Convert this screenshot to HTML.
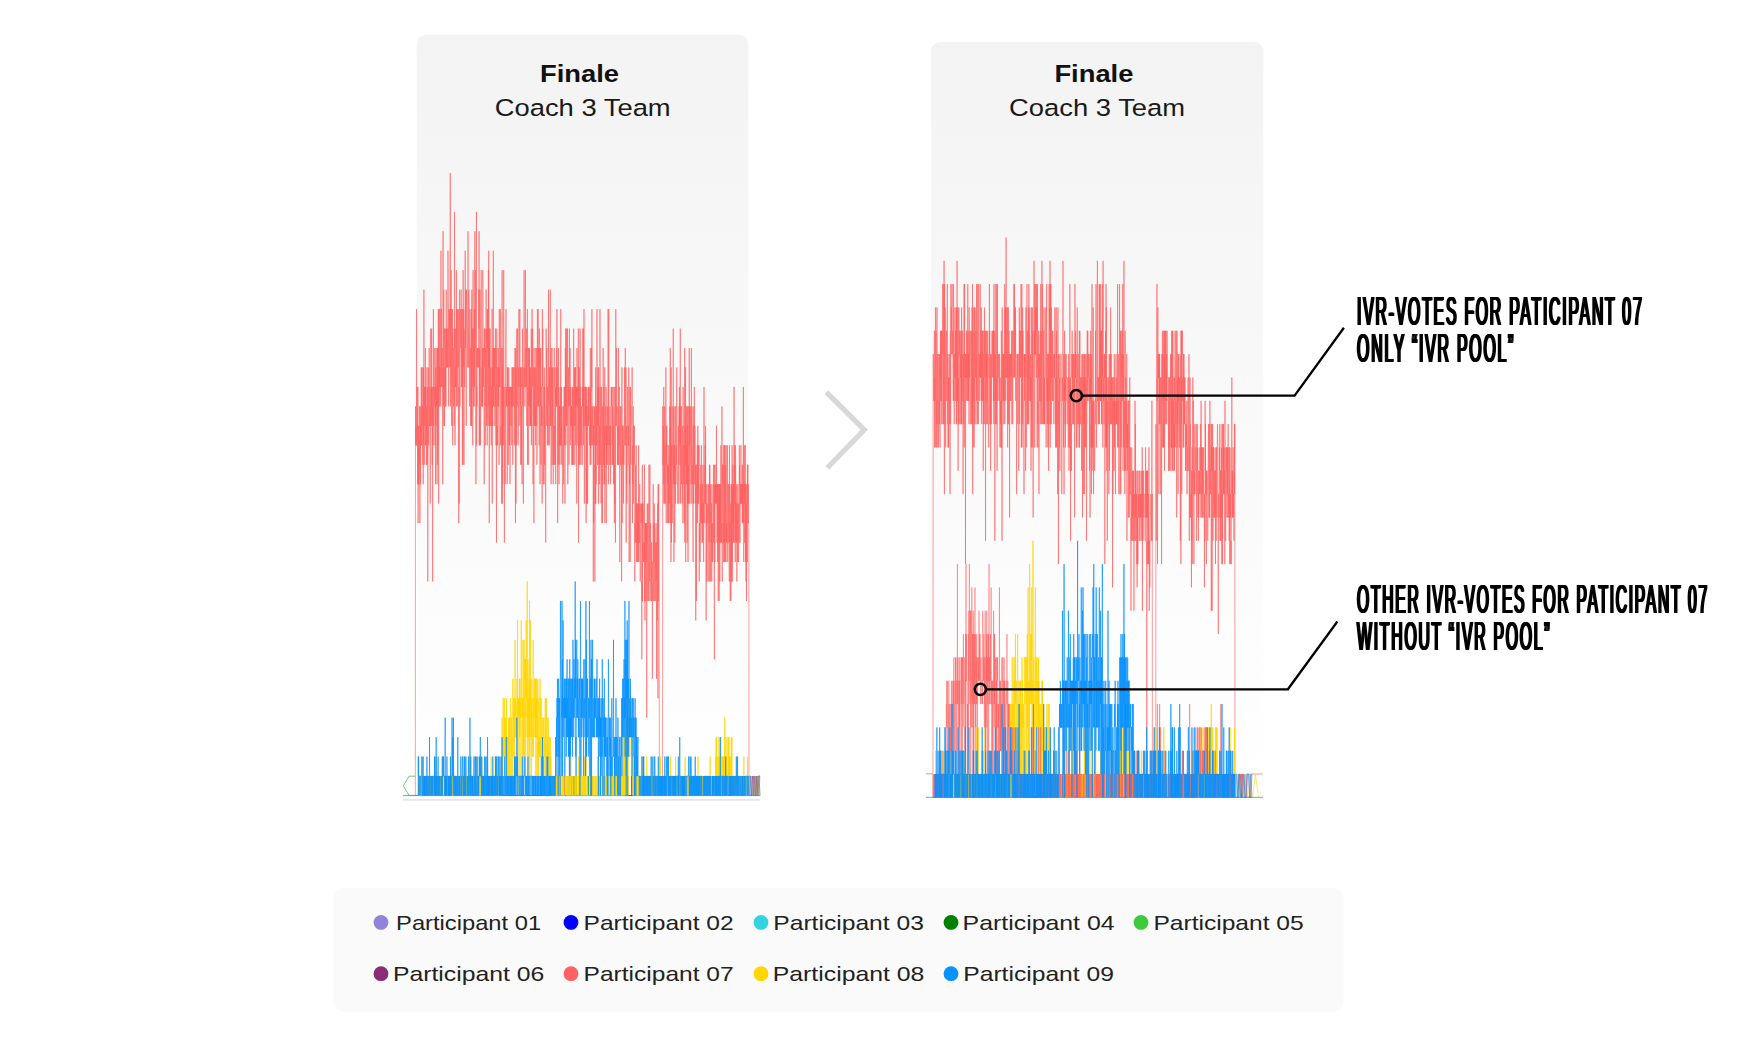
<!DOCTYPE html>
<html lang="en"><head><meta charset="utf-8"><title>Finale - Coach 3 Team</title>
<style>
html,body{margin:0;padding:0;background:#fff}
svg{display:block}
text{font-family:"Liberation Sans",Arial,sans-serif}
.t1{font-weight:700;font-size:23.7px;fill:#111}
.t2{font-size:23.7px;fill:#1a1a1a}
.leg text{font-size:21px;fill:#222}
.ann{font-weight:400;font-size:40px;fill:#000;letter-spacing:4.5px}
</style></head><body>
<svg width="1740" height="1037" viewBox="0 0 1740 1037">
<defs>
<linearGradient id="pg" x1="0" y1="0" x2="0" y2="1">
<stop offset="0" stop-color="#f3f3f3"/><stop offset="1" stop-color="#ffffff"/>
</linearGradient>
<filter id="fat" x="-2%" y="-10%" width="104%" height="120%">
<feOffset in="SourceGraphic" dx="-0.78" result="a"/><feOffset in="SourceGraphic" dx="0.78" result="b"/><feOffset in="SourceGraphic" dx="-0.38" result="c"/><feOffset in="SourceGraphic" dx="0.38" result="d"/>
<feMerge><feMergeNode in="a"/><feMergeNode in="c"/><feMergeNode in="SourceGraphic"/><feMergeNode in="d"/><feMergeNode in="b"/></feMerge>
</filter>
</defs>
<rect width="1740" height="1037" fill="#fff"/>
<rect x="416.8" y="34.8" width="331.5" height="766" rx="9" fill="url(#pg)"/>
<rect x="931" y="42" width="332.3" height="758" rx="9" fill="url(#pg)"/>
<text class="t1" x="540" y="81.9" textLength="79" lengthAdjust="spacingAndGlyphs">Finale</text>
<text class="t2" x="494.7" y="116" textLength="176" lengthAdjust="spacingAndGlyphs">Coach 3 Team</text>
<text class="t1" x="1054.4" y="81.9" textLength="79" lengthAdjust="spacingAndGlyphs">Finale</text>
<text class="t2" x="1009.1" y="116" textLength="176" lengthAdjust="spacingAndGlyphs">Coach 3 Team</text>
<!-- chart 1 -->
<path d="M415.3 776.2H409L403.3 785.8L409 795.3H415" fill="none" stroke="#4cc04c" stroke-width="0.8"/>
<path d="M403 795.6H760" stroke="#3aa0ff" stroke-width="0.9" fill="none"/>
<path d="M403 799.9H760" stroke="#e6e6ea" stroke-width="1.6" fill="none"/>
<g transform="translate(415.30,795.50) scale(0.17572,-19.4560)" fill="none" stroke-linejoin="round">
<path vector-effect="non-scaling-stroke" stroke="#9083d9" stroke-width="0.5" d="M0 0 87 0 88 1 89 0 97 0 98 1 99 0 144 0 145 1 146 0 386 0 387 1 388 0 460 0 461 1 462 0 887 0 888 1 889 0 891 0 892 1 893 0 1039 0 1040 1 1041 0 1046 0 1047 1 1048 0 1174 0 1175 1 1176 0 1509 0 1510 1 1511 0 1552 0 1553 1 1554 0 1708 0 1709 1 1710 0 1852 0 1853 1 1854 0 1899 0"/>
<path vector-effect="non-scaling-stroke" stroke="#0000ff" stroke-width="0.5" d="M0 0 1498 0 1499 1 1500 0 1583 0 1584 1 1585 0 1797 0 1798 1 1799 0 1899 0"/>
<path vector-effect="non-scaling-stroke" stroke="#33d3e0" stroke-width="0.5" d="M0 0 59 0 60 1 61 0 118 0 119 1 120 0 184 0 185 1 186 0 323 0 324 1 325 0 343 0 344 1 345 0 875 0 876 1 877 0 917 0 918 1 919 1 920 0 1136 0 1137 1 1138 0 1296 0 1297 1 1298 0 1623 0 1624 1 1625 0 1885 0 1886 1 1887 0 1888 1 1889 0 1899 0"/>
<path vector-effect="non-scaling-stroke" stroke="#008000" stroke-width="0.5" d="M0 0 21 0 22 1 23 0 149 0 150 1 151 0 199 0 200 1 201 0 480 0 481 1 482 0 715 0 716 1 717 0 901 0 902 1 903 0 907 0 908 1 909 0 916 0 917 1 918 0 959 0 960 1 961 0 980 0 981 1 982 0 985 0 986 1 987 0 1110 0 1111 1 1112 0 1197 0 1198 1 1199 0 1201 0 1202 1 1203 0 1230 0 1231 1 1232 0 1299 0 1300 1 1301 0 1331 0 1332 1 1333 0 1453 0 1454 1 1455 0 1574 0 1575 1 1576 0 1604 0 1605 1 1606 0 1681 0 1682 1 1683 0 1706 0 1707 1 1708 0 1733 0 1734 1 1735 0 1756 0 1757 1 1758 0 1774 0 1775 1 1776 0 1813 0 1814 1 1815 0 1875 0 1876 1 1877 0 1899 0"/>
<path vector-effect="non-scaling-stroke" stroke="#3ccb3c" stroke-width="0.5" d="M0 0 210 0 211 1 212 0 380 0 381 1 382 0 404 0 405 1 406 0 639 0 640 1 641 0 722 0 723 1 724 0 794 0 795 1 796 0 868 0 869 1 870 0 878 0 879 1 880 0 1084 0 1085 1 1086 0 1122 0 1123 1 1124 0 1125 0 1126 1 1127 0 1186 0 1187 1 1188 0 1333 0 1334 1 1335 0 1354 0 1355 1 1356 0 1406 0 1407 1 1408 1 1409 0 1477 0 1478 1 1479 0 1493 0 1494 1 1495 0 1536 0 1537 1 1538 0 1579 0 1580 1 1581 0 1799 0 1800 1 1801 0 1899 0"/>
<path vector-effect="non-scaling-stroke" stroke="#8a2d74" stroke-width="0.5" d="M0 0 67 0 68 1 69 0 325 0 326 1 327 0 351 0 352 1 353 0 416 0 417 1 418 0 425 0 426 1 427 0 591 0 592 1 593 0 805 0 806 1 807 0 810 0 811 1 812 0 849 0 850 1 851 0 911 0 912 1 913 0 1009 0 1010 1 1011 0 1046 0 1047 1 1048 0 1171 0 1172 1 1173 0 1209 0 1210 1 1211 0 1233 0 1234 1 1235 0 1304 0 1305 1 1306 0 1365 0 1366 1 1367 0 1509 0 1510 1 1511 0 1630 0 1631 1 1632 0 1652 0 1653 1 1654 0 1791 0 1792 1 1793 0 1893 0 1894 1 1895 0 1899 0"/>
<path vector-effect="non-scaling-stroke" stroke="#ff5f5f" stroke-width="0.62" d="M0 0 1 20 2 19 3 18 4 19 5 18 6 20 7 25 8 18 9 18 10 21 11 20 12 20 13 16 14 20 15 21 16 14 17 19 18 16 19 17 20 16 21 19 22 17 23 20 24 20 25 19 26 14 27 17 28 20 29 20 30 16 31 19 32 18 33 18 34 22 35 18 36 20 37 22 38 19 39 20 41 20 42 17 43 20 44 22 45 16 46 22 47 20 48 18 49 26 50 21 51 17 52 20 53 21 54 19 55 21 56 20 57 21 58 23 59 18 60 21 61 18 62 20 63 17 64 19 65 19 66 22 67 22 68 17 69 18 70 21 71 11 72 18 73 20 74 22 75 21 76 18 77 19 78 19 79 23 80 19 81 19 82 21 83 20 84 20 85 15 86 20 87 19 88 24 89 22 90 20 91 21 92 19 93 24 94 20 95 21 96 17 97 21 98 13 99 11 100 20 101 18 102 21 103 25 104 19 105 19 106 21 107 21 108 20 109 20 110 22 111 23 112 18 113 21 114 21 115 16 116 22 117 19 118 23 119 22 120 22 121 20 122 21 123 17 124 16 125 23 126 17 127 23 128 18 129 23 130 20 131 25 132 22 133 15 134 25 135 25 136 22 137 21 138 22 139 20 140 25 141 21 142 22 143 21 144 21 145 20 146 28 147 22 148 25 149 23 150 21 151 22 152 21 153 23 154 22 155 22 156 16 157 21 158 29 159 21 160 20 161 24 162 26 163 19 164 22 165 21 166 19 167 24 168 23 169 23 170 21 171 24 172 20 173 22 174 20 175 20 176 26 177 22 178 24 179 23 180 22 181 22 182 24 183 22 184 23 185 23 186 28 187 26 188 25 189 22 190 20 191 25 192 25 193 22 194 24 195 25 197 25 198 22 199 32 200 20 201 25 202 24 203 25 204 27 205 26 206 20 207 19 208 25 209 21 210 23 211 25 212 19 213 18 214 24 215 23 217 23 218 21 219 20 220 23 221 21 222 19 223 30 224 23 225 24 226 18 227 22 228 21 229 21 230 24 231 21 232 24 233 24 234 27 235 20 236 25 237 23 238 23 239 20 240 22 241 25 242 23 243 23 244 22 245 25 246 23 247 14 248 21 249 18 250 15 251 22 252 26 253 23 254 20 255 21 256 25 257 24 258 23 260 23 261 26 262 24 263 24 264 21 265 25 266 21 267 25 268 17 269 23 270 23 271 17 272 27 273 26 274 22 275 25 276 25 277 17 278 24 279 23 280 23 281 21 282 22 283 23 284 28 285 24 286 23 287 26 288 22 289 22 290 19 291 26 292 25 293 25 294 24 296 24 297 22 298 22 299 23 300 29 301 24 302 23 303 22 304 22 305 26 306 24 307 23 308 22 309 20 310 23 311 25 312 22 314 22 315 23 316 19 317 22 318 19 319 25 320 19 321 25 322 26 323 21 324 21 325 24 326 23 327 18 328 24 329 27 330 22 331 22 332 20 333 24 334 20 335 20 336 25 337 21 338 27 339 29 340 23 341 24 342 27 343 22 344 21 345 16 346 23 347 26 348 30 349 18 350 21 351 20 352 23 353 22 354 23 355 23 356 22 357 22 358 23 359 22 360 23 361 26 362 24 363 29 364 18 365 23 366 18 367 19 368 26 369 24 370 22 371 18 372 21 373 21 374 24 375 27 376 23 377 20 378 20 379 22 380 22 381 20 382 23 383 20 384 27 385 26 386 24 387 21 388 23 389 22 390 21 391 21 392 16 393 19 394 24 395 22 396 23 397 24 398 18 399 20 400 23 401 23 402 20 403 26 404 22 405 19 406 20 407 24 408 23 409 18 410 25 411 23 412 25 413 21 414 21 415 19 416 27 417 22 418 28 419 20 420 23 421 14 422 21 423 24 424 19 425 24 426 23 427 19 428 20 429 21 430 22 431 21 432 18 433 21 434 19 435 19 436 22 437 25 438 15 439 22 440 20 441 19 442 23 443 21 444 28 445 20 446 23 447 21 448 20 449 23 450 21 451 23 452 22 453 19 454 21 455 22 456 24 457 20 458 21 459 18 460 23 461 19 462 13 463 22 464 24 465 18 466 19 467 18 468 19 469 22 470 20 471 20 472 23 473 20 474 22 475 19 476 19 477 17 478 25 479 21 480 22 481 21 482 22 483 22 484 25 485 19 486 18 487 19 488 18 489 23 490 23 491 19 492 15 493 21 494 27 495 15 496 22 497 16 498 23 499 19 500 21 501 18 502 19 503 27 504 23 505 20 506 19 507 13 508 20 509 21 511 21 512 16 513 21 514 21 515 24 516 25 517 21 518 20 519 21 520 20 521 20 522 21 523 16 524 22 525 21 526 22 527 21 528 20 529 17 530 21 531 20 532 22 533 21 534 18 535 21 536 18 537 18 538 21 539 16 540 21 542 21 543 20 544 19 545 19 546 21 547 20 548 21 549 18 550 22 551 21 552 21 553 20 554 22 555 17 556 22 559 22 560 20 561 21 562 22 564 22 565 18 566 22 567 23 568 23 569 22 570 14 571 23 572 21 573 15 574 22 575 18 576 18 577 20 578 24 579 20 580 22 581 24 582 24 583 21 584 20 585 18 586 19 587 22 588 22 589 21 590 25 591 19 592 21 593 22 594 22 595 25 596 22 597 20 598 22 599 19 600 17 601 22 602 21 603 22 604 17 605 20 606 18 607 17 608 16 609 19 610 24 611 22 612 20 613 21 614 22 615 15 616 21 617 22 618 22 619 27 620 23 621 22 622 21 623 22 624 20 625 21 626 23 627 27 628 21 630 21 631 23 632 21 633 24 634 19 635 20 636 20 637 22 638 25 639 17 640 19 641 21 642 19 643 17 644 23 645 22 646 22 647 20 648 23 649 20 650 23 651 19 652 19 653 22 654 19 655 22 656 21 657 19 658 21 659 19 660 24 661 18 662 20 663 23 664 25 665 25 666 21 667 21 668 24 669 20 670 16 671 21 672 22 673 19 674 17 675 14 676 23 677 19 678 20 679 21 680 22 681 19 682 22 683 19 684 20 685 18 686 23 687 21 688 19 689 19 690 20 691 23 692 17 693 18 694 20 695 25 696 22 697 20 698 22 699 25 700 20 701 20 702 23 703 22 704 23 705 18 706 24 707 24 708 22 709 22 710 16 711 23 712 20 713 21 714 23 715 20 716 17 717 21 718 19 719 20 720 19 721 20 722 15 723 25 724 21 725 23 726 24 727 21 728 16 729 18 731 18 732 21 733 16 734 22 735 17 736 21 737 20 739 20 740 19 741 19 742 13 743 20 744 24 745 24 746 23 747 22 748 19 749 23 750 20 751 20 752 19 753 21 754 18 755 20 756 18 757 20 758 26 759 20 760 20 761 21 762 22 763 18 764 20 765 22 766 21 767 21 768 26 769 19 770 21 771 19 772 23 773 16 774 19 775 19 776 22 777 21 778 23 779 17 780 22 781 20 782 19 783 21 784 18 785 16 786 19 787 17 788 19 789 22 790 21 791 23 792 19 793 17 794 19 795 18 796 17 797 21 798 19 799 16 800 22 801 20 802 21 803 20 804 23 805 20 806 25 807 21 808 21 809 22 810 14 811 19 812 20 813 21 814 17 815 23 816 21 817 17 818 16 819 19 820 20 821 18 822 20 823 17 824 21 825 18 826 20 827 22 828 25 829 18 830 19 831 18 832 21 833 17 834 19 835 20 836 18 838 18 839 15 840 17 841 19 842 20 843 20 844 16 845 18 846 21 847 21 848 20 849 18 850 21 851 17 852 15 853 18 854 23 855 20 856 24 857 18 858 22 859 19 860 19 861 24 862 21 863 19 864 20 865 21 866 24 867 19 868 16 869 19 870 20 871 20 872 22 873 20 874 21 875 17 876 23 877 24 878 21 879 20 880 20 881 23 882 18 883 19 884 21 885 21 886 19 887 20 888 19 889 20 890 19 891 17 892 20 893 21 894 17 895 19 896 21 897 17 898 20 899 17 900 22 901 24 902 23 903 19 904 21 905 20 906 20 907 22 908 17 909 22 910 19 911 22 912 20 913 18 914 20 915 21 916 20 917 21 918 17 919 15 920 23 921 21 922 20 923 20 924 21 925 18 926 18 927 19 928 24 929 13 930 22 931 17 932 17 933 22 934 19 935 17 936 19 937 21 938 24 939 18 940 20 941 21 942 17 943 20 944 19 945 18 946 18 947 20 948 19 949 18 950 17 951 21 952 20 953 21 954 24 955 20 956 24 957 18 958 21 959 19 960 25 961 22 962 15 963 17 964 21 966 21 967 19 968 21 969 21 970 19 971 21 972 14 973 20 974 15 975 21 976 18 977 15 978 20 979 17 980 15 981 16 982 19 983 20 984 21 985 19 986 21 987 19 988 19 989 20 990 21 991 19 992 18 993 19 994 19 995 17 996 23 997 18 998 21 999 17 1000 20 1001 20 1002 18 1003 23 1004 21 1005 25 1006 21 1007 18 1008 18 1009 20 1010 19 1012 19 1013 11 1014 19 1015 14 1016 20 1017 18 1019 18 1020 20 1021 16 1022 11 1023 17 1024 15 1025 17 1026 22 1027 15 1028 20 1029 16 1030 20 1031 18 1032 19 1033 20 1034 25 1035 20 1036 20 1037 17 1038 21 1039 19 1040 22 1041 19 1042 22 1043 15 1044 18 1045 21 1046 18 1047 17 1048 19 1049 16 1050 19 1051 25 1052 21 1053 17 1054 17 1055 18 1056 21 1057 15 1058 18 1059 21 1060 21 1061 18 1062 14 1063 16 1064 18 1065 14 1066 20 1067 18 1068 20 1069 23 1070 21 1071 17 1072 21 1073 21 1074 16 1075 17 1076 19 1077 16 1078 22 1079 14 1080 17 1081 18 1082 18 1083 19 1084 20 1085 18 1086 21 1087 14 1088 19 1089 17 1090 19 1091 19 1092 17 1093 18 1094 20 1095 20 1096 18 1097 25 1098 23 1099 16 1100 20 1101 25 1102 20 1103 19 1104 19 1105 18 1106 19 1107 17 1108 20 1109 18 1110 18 1111 16 1112 19 1113 17 1114 19 1115 21 1116 20 1117 21 1118 20 1119 19 1120 19 1121 18 1122 20 1123 17 1124 21 1125 19 1126 17 1127 18 1128 16 1129 19 1130 17 1131 21 1132 16 1133 14 1134 17 1135 15 1136 19 1137 21 1138 20 1139 13 1140 17 1141 25 1142 19 1143 19 1144 21 1145 23 1146 21 1147 19 1148 20 1149 20 1150 18 1151 17 1152 19 1153 17 1154 19 1155 19 1156 23 1157 17 1158 19 1159 18 1160 20 1161 21 1162 17 1163 15 1164 12 1165 17 1166 20 1167 19 1168 17 1169 18 1170 19 1171 20 1172 18 1173 18 1174 11 1175 16 1176 22 1177 14 1178 18 1179 19 1180 17 1181 17 1182 19 1184 19 1185 15 1186 18 1187 17 1188 18 1189 19 1190 20 1191 22 1192 18 1193 20 1194 21 1195 23 1196 21 1197 18 1198 18 1199 22 1200 13 1201 19 1202 16 1203 17 1204 15 1205 17 1206 19 1207 20 1208 21 1209 19 1210 18 1211 17 1212 19 1213 18 1214 20 1215 22 1216 19 1217 12 1218 17 1219 16 1220 16 1221 21 1222 19 1223 12 1224 20 1225 21 1226 18 1227 17 1228 18 1229 19 1230 19 1231 20 1233 20 1234 22 1235 19 1236 14 1237 17 1238 18 1239 16 1240 20 1241 16 1242 15 1243 19 1244 18 1245 17 1246 19 1247 18 1248 17 1249 11 1250 14 1251 13 1252 13 1253 15 1254 17 1255 14 1256 13 1257 18 1258 14 1259 12 1260 15 1261 15 1262 13 1263 15 1264 13 1265 12 1266 14 1267 15 1268 12 1269 14 1270 13 1271 18 1272 12 1273 15 1274 13 1275 13 1276 14 1277 16 1278 15 1279 14 1280 11 1281 12 1282 14 1283 15 1284 15 1285 14 1286 14 1287 15 1288 13 1289 7 1290 11 1291 10 1292 17 1293 10 1294 15 1295 14 1296 15 1297 14 1298 12 1299 12 1300 13 1301 13 1302 12 1303 13 1304 17 1305 10 1306 13 1307 9 1308 13 1309 14 1310 13 1311 14 1312 10 1313 14 1314 12 1315 14 1316 13 1317 4 1318 11 1319 13 1320 15 1321 13 1322 13 1323 10 1324 15 1325 15 1326 13 1327 12 1328 10 1329 14 1330 17 1331 14 1332 14 1333 13 1334 11 1335 17 1336 10 1337 12 1338 13 1339 14 1340 13 1341 13 1342 11 1343 10 1344 13 1345 11 1346 10 1347 10 1348 12 1349 6 1350 10 1351 10 1352 13 1353 13 1354 16 1355 10 1356 11 1357 14 1358 12 1359 12 1360 15 1361 12 1362 10 1363 10 1364 14 1365 13 1366 10 1367 11 1368 13 1369 13 1370 11 1371 13 1372 13 1373 6 1374 12 1375 14 1376 11 1377 9 1378 11 1379 15 1380 15 1381 5 1382 16 1383 10 1384 14 1385 16 1386 14 1387 13 1388 11 1389 0 1407 0 1408 20 1409 19 1410 17 1411 19 1412 16 1413 17 1414 21 1415 15 1416 16 1417 15 1418 18 1419 20 1420 16 1421 18 1422 16 1423 15 1424 15 1425 20 1426 22 1427 19 1428 14 1429 19 1430 17 1431 19 1432 18 1434 18 1435 16 1436 17 1437 14 1438 17 1439 14 1440 17 1441 15 1442 18 1443 18 1444 14 1445 16 1446 15 1447 19 1448 20 1449 19 1450 16 1451 23 1452 14 1453 20 1454 16 1455 12 1456 22 1457 20 1458 13 1459 18 1460 17 1461 18 1462 14 1463 15 1464 18 1465 18 1466 20 1467 18 1468 24 1469 16 1470 18 1471 13 1472 12 1473 20 1474 16 1475 18 1476 17 1477 13 1478 17 1479 16 1480 15 1481 20 1482 19 1483 16 1484 16 1485 18 1486 17 1487 19 1488 22 1489 19 1490 17 1491 17 1492 16 1493 16 1494 15 1495 17 1496 17 1497 19 1498 17 1499 17 1500 15 1501 20 1502 18 1503 21 1504 19 1505 20 1506 17 1507 20 1508 24 1509 15 1510 20 1511 20 1512 18 1513 20 1514 20 1515 16 1516 18 1517 16 1518 16 1519 15 1520 17 1521 18 1522 19 1523 14 1524 21 1525 19 1526 19 1527 16 1528 17 1529 18 1530 18 1531 14 1532 19 1533 23 1534 13 1535 19 1536 18 1537 17 1538 22 1539 12 1540 18 1541 20 1542 17 1543 16 1544 18 1545 16 1546 20 1547 13 1548 19 1549 15 1550 20 1551 17 1552 12 1553 17 1554 15 1555 15 1556 20 1557 15 1558 15 1559 23 1560 18 1561 20 1562 18 1563 15 1564 17 1565 20 1566 19 1567 17 1569 17 1570 16 1571 23 1572 17 1573 15 1574 15 1575 20 1576 18 1577 17 1578 16 1579 17 1580 14 1581 12 1582 19 1583 15 1584 18 1585 20 1586 18 1587 17 1588 21 1589 19 1590 16 1591 19 1592 19 1593 15 1594 17 1595 17 1596 9 1597 17 1598 16 1599 16 1600 10 1601 17 1603 17 1604 15 1605 18 1606 14 1607 16 1608 19 1609 15 1610 16 1611 18 1612 15 1613 16 1614 17 1615 18 1616 11 1617 14 1618 14 1619 13 1620 14 1621 12 1622 16 1623 14 1624 16 1625 17 1626 14 1627 15 1628 18 1629 16 1630 14 1631 15 1632 13 1633 15 1634 16 1635 13 1636 14 1637 17 1638 14 1639 15 1640 13 1641 12 1642 14 1643 21 1644 14 1647 14 1648 17 1649 15 1650 18 1651 15 1652 19 1653 15 1654 16 1655 9 1656 15 1657 15 1658 14 1659 11 1660 16 1661 14 1664 14 1665 15 1666 12 1667 11 1668 16 1669 15 1670 14 1671 14 1672 13 1673 15 1674 17 1675 11 1676 17 1677 16 1678 14 1679 16 1680 12 1681 11 1682 12 1683 14 1684 14 1685 13 1686 15 1687 11 1688 16 1689 12 1690 13 1691 14 1692 13 1693 12 1694 13 1695 15 1696 16 1697 17 1698 13 1700 13 1701 16 1702 7 1703 17 1704 14 1705 12 1706 15 1707 16 1708 15 1709 16 1710 15 1711 17 1712 17 1713 15 1714 19 1715 15 1716 15 1717 13 1718 14 1719 16 1720 12 1721 16 1722 15 1723 16 1724 10 1725 14 1726 16 1727 13 1728 15 1729 10 1730 16 1731 13 1732 16 1733 11 1734 16 1735 14 1736 16 1737 13 1738 14 1739 18 1740 13 1741 13 1742 14 1743 13 1744 17 1745 20 1746 13 1747 11 1748 17 1749 17 1750 16 1751 17 1752 13 1753 14 1754 12 1755 12 1756 18 1757 13 1758 18 1759 15 1760 12 1761 16 1762 18 1763 15 1764 12 1765 15 1766 17 1767 14 1768 12 1769 18 1770 15 1771 13 1772 14 1773 13 1774 15 1775 15 1776 18 1777 17 1778 12 1779 16 1782 16 1783 14 1784 13 1785 16 1786 13 1787 11 1788 18 1789 13 1790 14 1791 12 1792 10 1793 10 1794 13 1795 15 1796 10 1797 16 1798 12 1799 11 1800 16 1801 15 1802 12 1803 18 1804 11 1805 15 1806 15 1807 17 1808 14 1809 16 1810 13 1811 16 1812 13 1813 13 1814 21 1815 15 1816 15 1817 18 1818 15 1819 13 1820 17 1821 12 1822 18 1823 17 1824 14 1825 13 1826 15 1827 15 1828 13 1829 16 1830 11 1831 13 1832 14 1833 14 1834 15 1835 12 1836 16 1837 14 1838 13 1839 12 1840 12 1841 15 1842 13 1843 15 1844 18 1845 16 1846 17 1847 14 1848 13 1849 16 1850 15 1851 16 1852 15 1853 18 1854 17 1855 16 1856 15 1857 16 1858 15 1859 15 1860 16 1861 14 1862 17 1863 14 1864 16 1865 14 1866 14 1867 21 1868 14 1869 12 1870 13 1871 13 1872 18 1873 15 1874 16 1875 13 1876 16 1877 16 1878 18 1879 12 1880 16 1881 16 1882 11 1883 15 1884 14 1885 10 1886 16 1887 15 1888 14 1889 12 1890 17 1891 15 1892 16 1893 17 1894 14 1895 16 1896 14 1898 14 1899 0"/>
<path vector-effect="non-scaling-stroke" stroke="#ffd600" stroke-width="0.7" d="M0 0 20 0 21 1 22 0 23 1 24 0 26 0 27 1 28 0 29 1 30 0 34 0 35 1 36 0 43 0 44 2 45 1 46 0 47 1 48 0 49 0 50 1 51 0 52 1 53 1 54 0 55 1 56 1 57 0 67 0 68 1 69 0 70 1 71 0 73 0 74 1 75 0 77 0 78 1 79 0 80 0 81 1 82 0 84 0 85 1 86 0 87 1 88 0 93 0 94 1 95 0 96 0 97 1 98 1 99 0 104 0 105 1 106 0 109 0 110 1 111 0 118 0 119 1 120 0 121 2 122 0 123 1 124 0 127 0 128 1 129 0 131 0 132 1 133 1 134 0 137 0 138 1 140 1 141 0 143 0 144 1 145 0 148 0 149 1 150 0 151 2 152 0 155 0 156 2 157 0 158 1 159 1 160 2 161 0 166 0 167 1 168 0 171 0 172 1 173 0 175 0 176 1 177 0 179 0 180 1 182 1 183 0 184 1 185 1 186 0 187 1 193 1 194 0 199 0 200 1 201 2 202 0 204 0 205 1 206 0 212 0 213 1 214 0 215 0 216 2 217 0 218 1 219 0 221 0 222 1 223 0 224 1 227 1 228 0 229 1 230 0 237 0 238 1 241 1 242 0 243 0 244 1 245 0 252 0 253 1 254 1 255 0 262 0 263 1 264 1 265 0 266 1 267 1 268 0 269 1 270 0 276 0 277 1 278 0 281 0 282 1 283 0 284 1 285 0 289 0 290 1 291 0 292 1 293 0 295 0 296 1 297 0 300 0 301 2 302 2 303 0 308 0 309 1 310 1 311 0 312 1 313 0 314 2 315 0 316 0 317 1 318 0 319 1 320 0 321 1 324 1 325 0 342 0 343 1 344 0 345 1 346 0 349 0 350 2 351 0 352 1 353 0 354 1 355 0 356 1 357 0 360 0 361 1 362 1 363 0 364 1 365 0 369 0 370 1 371 0 373 0 374 2 375 0 378 0 379 2 380 0 385 0 386 1 387 0 399 0 400 1 401 0 403 0 404 1 405 0 406 1 407 0 408 1 409 0 410 1 411 0 412 1 413 0 425 0 426 1 427 0 428 1 429 0 430 0 431 1 432 2 433 0 434 0 435 1 436 0 437 1 438 0 439 1 440 0 444 0 445 1 446 0 447 1 448 0 454 0 455 2 456 0 459 0 460 1 461 0 468 0 469 1 470 1 471 0 472 1 473 0 474 0 475 1 476 1 477 0 479 0 480 1 481 0 482 1 483 0 485 0 486 1 487 0 491 0 492 1 493 1 494 4 495 0 496 2 497 1 498 3 499 2 500 5 501 2 503 2 504 3 505 2 506 3 507 5 508 2 509 3 510 4 511 2 513 2 514 3 515 4 516 3 517 0 518 4 519 5 520 2 521 3 522 3 523 0 524 3 525 2 526 3 527 0 528 3 529 2 530 4 531 1 532 3 533 2 534 1 535 4 536 3 537 4 538 2 539 1 540 1 541 3 542 3 543 5 544 3 545 3 546 0 547 4 548 4 549 2 550 3 551 3 552 0 553 3 554 4 555 6 556 5 557 3 558 2 559 4 560 4 561 5 562 3 563 4 564 5 565 0 566 4 567 6 568 8 569 5 570 4 571 3 572 5 573 4 574 4 575 3 576 4 577 4 578 5 579 6 580 5 581 2 582 9 583 2 584 3 585 5 586 5 587 4 588 5 589 3 590 3 591 0 592 3 593 6 594 3 595 6 596 6 597 4 599 4 600 5 601 1 602 5 603 9 604 6 605 5 606 5 607 4 608 5 609 2 610 5 611 5 612 4 613 8 614 4 615 2 616 5 617 0 618 4 619 8 620 2 621 5 622 5 623 7 624 6 625 7 626 6 627 0 628 7 629 4 630 4 631 9 632 7 633 5 634 6 635 6 636 3 637 11 638 2 639 5 640 4 641 7 642 6 643 4 644 5 645 3 646 5 647 1 648 6 649 2 650 10 651 1 652 5 653 6 654 3 655 5 656 9 657 5 658 5 659 6 660 0 661 5 662 3 663 3 664 5 665 4 666 2 667 3 668 4 669 6 670 6 671 8 672 2 673 4 674 5 676 5 677 4 678 6 679 6 680 4 681 3 682 6 683 3 684 5 685 6 686 1 687 4 688 3 689 5 690 4 691 6 692 4 693 1 694 5 695 3 696 3 697 6 698 1 699 3 700 3 701 1 702 1 703 5 704 2 705 3 706 3 707 2 708 2 709 4 710 6 711 4 712 5 713 2 714 3 715 2 716 5 717 3 720 3 721 2 722 4 723 2 724 0 725 3 726 2 727 3 728 4 729 3 731 3 732 4 733 0 734 3 735 2 736 2 737 3 738 3 739 4 740 5 741 0 742 3 743 5 744 4 745 5 746 3 747 1 748 2 749 4 750 4 751 2 752 2 753 3 754 1 755 2 756 4 757 4 758 2 759 1 761 1 762 0 763 3 764 1 765 1 766 2 767 2 768 0 769 3 770 0 771 0 772 2 773 0 777 0 778 1 779 0 787 0 788 1 789 0 790 1 791 0 793 0 794 1 795 0 796 1 797 0 803 0 804 1 805 0 806 1 807 0 808 2 809 0 810 1 811 0 815 0 816 1 817 1 818 0 823 0 824 1 825 1 826 0 827 0 828 1 829 1 830 0 834 0 835 1 836 0 838 0 839 1 840 0 841 0 842 1 843 0 844 1 845 0 851 0 852 1 857 1 858 0 859 1 860 0 861 0 862 1 863 0 864 1 865 1 866 0 867 0 868 1 869 0 874 0 875 1 876 0 880 0 881 1 882 0 884 0 885 2 886 0 893 0 894 1 895 0 903 0 904 1 905 0 911 0 912 1 913 0 914 1 915 0 916 0 917 1 919 1 920 0 925 0 926 1 928 1 929 0 930 2 931 0 935 0 936 1 937 1 938 0 939 0 940 1 941 0 945 0 946 1 947 0 948 0 949 1 950 0 953 0 954 1 955 0 957 0 958 1 959 0 960 1 961 0 962 1 963 0 964 1 965 2 966 0 967 0 968 2 969 1 970 0 971 2 972 0 978 0 979 1 980 0 990 0 991 2 992 0 997 0 998 1 999 1 1000 0 1002 0 1003 1 1004 0 1005 1 1006 0 1007 0 1008 1 1009 0 1010 1 1011 0 1012 1 1013 0 1014 1 1015 0 1017 0 1018 1 1019 0 1025 0 1026 1 1027 0 1028 1 1029 0 1033 0 1034 1 1035 0 1037 0 1038 2 1039 0 1041 0 1042 1 1043 0 1049 0 1050 1 1051 0 1056 0 1057 1 1058 0 1063 0 1064 1 1065 0 1070 0 1071 1 1072 0 1074 0 1075 1 1076 0 1082 0 1083 1 1085 1 1086 0 1087 1 1088 0 1089 1 1090 0 1091 1 1092 0 1105 0 1106 1 1107 1 1108 0 1111 0 1112 1 1113 0 1117 0 1118 1 1119 0 1121 0 1122 1 1123 1 1124 0 1125 1 1126 1 1127 0 1128 1 1129 1 1130 0 1131 1 1132 0 1136 0 1137 1 1138 1 1139 0 1143 0 1144 2 1145 0 1146 1 1148 1 1149 0 1150 1 1151 0 1152 1 1153 1 1154 0 1160 0 1161 1 1162 1 1163 0 1165 0 1166 1 1167 0 1168 1 1169 1 1170 0 1171 0 1172 1 1174 1 1175 0 1176 1 1177 0 1178 1 1179 1 1180 0 1181 0 1182 1 1183 3 1184 0 1185 1 1186 3 1187 2 1188 0 1189 3 1190 1 1191 3 1192 0 1193 2 1194 1 1195 3 1196 3 1197 1 1198 4 1199 2 1200 0 1201 0 1202 4 1203 3 1204 1 1205 2 1206 2 1207 4 1208 3 1209 5 1210 2 1211 0 1212 4 1213 2 1214 3 1215 6 1216 3 1217 4 1218 3 1219 2 1220 4 1221 2 1222 4 1223 4 1224 3 1225 4 1226 4 1227 3 1228 4 1229 3 1230 3 1231 2 1232 3 1233 3 1234 1 1236 1 1237 2 1238 1 1239 0 1240 1 1241 0 1242 2 1243 0 1249 0 1250 1 1251 0 1252 1 1253 0 1257 0 1258 1 1259 0 1261 0 1262 1 1263 0 1264 0 1265 1 1266 0 1268 0 1269 1 1270 0 1271 1 1272 0 1273 0 1274 1 1275 0 1278 0 1279 1 1280 0 1281 1 1282 0 1283 0 1284 1 1285 0 1289 0 1290 2 1291 0 1292 1 1293 0 1300 0 1301 1 1305 1 1306 0 1309 0 1310 1 1311 0 1312 1 1313 0 1314 0 1315 1 1316 0 1317 2 1318 0 1319 1 1320 0 1323 0 1324 1 1326 1 1327 0 1329 0 1330 1 1331 0 1334 0 1335 1 1336 1 1337 0 1338 1 1340 1 1341 0 1342 1 1343 1 1344 0 1345 0 1346 2 1347 0 1348 0 1349 1 1350 0 1359 0 1360 1 1364 1 1365 0 1366 2 1367 0 1372 0 1373 1 1374 0 1375 0 1376 1 1377 0 1378 1 1379 1 1380 0 1386 0 1387 1 1389 1 1390 0 1391 1 1392 0 1393 1 1394 1 1395 2 1396 2 1397 0 1398 0 1399 1 1400 0 1406 0 1407 1 1411 1 1412 0 1413 1 1414 0 1424 0 1425 1 1426 0 1430 0 1431 1 1432 1 1433 0 1444 0 1445 1 1446 0 1448 0 1449 1 1450 0 1451 0 1452 2 1453 1 1454 0 1455 0 1456 1 1457 0 1461 0 1462 1 1463 1 1464 0 1465 0 1466 1 1467 0 1468 1 1469 0 1470 1 1471 0 1479 0 1480 1 1481 1 1482 2 1483 0 1486 0 1487 1 1488 0 1489 0 1490 1 1491 1 1492 0 1494 0 1495 1 1497 1 1498 0 1502 0 1503 1 1504 1 1505 0 1507 0 1508 1 1509 0 1510 1 1511 0 1512 1 1513 0 1516 0 1517 1 1518 0 1519 0 1520 1 1521 1 1522 0 1523 1 1524 1 1525 0 1530 0 1531 1 1532 1 1533 0 1534 0 1535 2 1536 2 1537 0 1544 0 1545 1 1546 0 1549 0 1550 1 1551 1 1552 0 1554 0 1555 1 1556 1 1557 0 1571 0 1572 1 1573 0 1574 1 1575 0 1586 0 1587 1 1588 0 1595 0 1596 1 1597 1 1598 0 1599 1 1600 0 1601 1 1602 1 1603 0 1604 0 1605 1 1606 0 1607 1 1608 1 1609 2 1610 0 1611 0 1612 1 1613 0 1618 0 1619 1 1620 0 1624 0 1625 1 1626 0 1628 0 1629 1 1630 0 1631 1 1632 0 1633 1 1634 0 1638 0 1639 1 1640 0 1641 1 1642 1 1643 0 1644 0 1645 1 1646 1 1647 0 1654 0 1655 1 1657 1 1658 0 1659 1 1660 0 1662 0 1663 1 1664 0 1665 0 1666 1 1667 1 1668 0 1669 1 1670 0 1672 0 1673 1 1674 0 1677 0 1678 2 1679 0 1680 1 1681 0 1682 0 1683 1 1684 0 1685 0 1686 1 1687 0 1689 0 1690 1 1691 0 1698 0 1699 1 1700 0 1704 0 1705 1 1706 0 1707 1 1708 0 1709 0 1710 2 1711 1 1712 3 1713 1 1714 3 1715 0 1716 0 1717 1 1718 2 1719 1 1722 1 1723 0 1725 0 1726 2 1727 0 1728 3 1729 1 1730 0 1732 0 1733 2 1734 0 1735 1 1737 1 1738 3 1739 1 1740 0 1743 0 1744 2 1745 2 1746 1 1747 2 1748 2 1749 1 1750 0 1751 2 1752 0 1753 1 1754 0 1755 2 1756 2 1757 0 1758 1 1759 2 1760 1 1761 4 1762 0 1763 3 1764 0 1765 0 1766 2 1767 0 1768 0 1769 1 1770 0 1771 0 1772 2 1773 0 1774 3 1775 0 1776 0 1777 1 1778 0 1779 1 1781 1 1782 3 1783 1 1784 3 1785 0 1786 2 1787 1 1788 2 1789 1 1790 2 1791 0 1792 0 1793 1 1795 1 1796 2 1797 1 1798 3 1799 3 1800 0 1801 2 1802 3 1803 0 1804 1 1806 1 1807 0 1808 1 1809 0 1810 1 1811 0 1815 0 1816 1 1817 0 1818 0 1819 1 1820 0 1821 1 1822 0 1824 0 1825 1 1826 0 1831 0 1832 1 1833 2 1834 1 1835 1 1836 0 1839 0 1840 1 1841 0 1849 0 1850 1 1852 1 1853 0 1854 1 1855 1 1856 0 1857 0 1858 1 1859 0 1860 0 1861 1 1863 1 1864 0 1868 0 1869 1 1870 2 1871 0 1873 0 1874 1 1875 0 1878 0 1879 1 1880 0 1887 0 1888 1 1889 1 1890 0 1891 2 1892 0 1893 1 1894 0 1895 1 1896 0 1897 0 1898 1 1899 0"/>
<path vector-effect="non-scaling-stroke" stroke="#0892ff" stroke-width="0.7" d="M0 0 16 0 17 2 18 1 19 2 20 0 21 1 25 1 26 0 27 1 31 1 32 0 33 0 34 1 36 1 37 2 38 1 40 1 41 0 42 1 43 1 44 2 45 1 46 0 47 0 48 1 49 0 50 0 51 1 52 0 53 1 54 0 55 0 56 1 57 0 58 1 59 1 60 0 62 0 63 1 64 1 65 0 66 2 67 1 68 1 69 0 70 1 73 1 74 0 76 0 77 1 78 0 79 0 80 1 81 3 82 0 83 1 87 1 88 0 89 0 90 1 91 0 93 0 94 1 95 0 96 1 98 1 99 0 100 0 101 1 104 1 105 0 108 0 109 1 110 2 111 0 112 2 113 0 114 0 115 1 116 1 117 0 118 1 119 3 120 0 121 0 122 1 123 0 124 1 126 1 127 0 128 0 129 1 130 2 131 0 132 0 133 1 134 0 137 0 138 1 139 1 140 0 141 1 142 0 148 0 149 1 150 1 151 0 152 1 153 0 154 0 155 2 156 2 157 1 159 1 160 2 161 1 166 1 167 0 168 1 169 1 170 4 171 0 172 1 173 0 174 1 175 0 176 1 177 0 178 1 179 0 180 2 181 1 185 1 186 0 187 0 188 1 189 0 190 1 192 1 193 0 194 0 195 1 196 0 197 0 198 1 199 0 200 2 201 0 202 1 204 1 205 0 206 0 207 1 208 1 209 4 210 2 211 1 212 2 213 3 214 1 215 1 216 0 217 4 218 1 221 1 222 0 223 1 224 1 225 0 226 1 227 1 228 0 229 1 230 1 231 0 234 0 235 1 236 0 237 0 238 1 239 0 240 0 241 2 242 3 243 1 244 1 245 0 246 0 247 1 248 1 249 0 250 0 251 1 252 0 253 1 254 0 258 0 259 2 260 1 261 1 262 0 263 1 264 1 265 0 266 1 267 1 268 2 269 2 270 1 271 1 272 0 274 0 275 1 276 0 277 1 278 2 279 1 280 0 281 0 282 2 283 0 284 1 286 1 287 0 288 2 289 1 290 0 296 0 297 1 298 0 300 0 301 1 302 0 303 2 304 2 305 1 306 1 307 0 308 1 310 1 311 4 312 0 313 0 314 1 315 0 316 2 317 0 318 0 319 1 322 1 323 0 324 0 325 1 326 0 327 1 328 1 329 0 332 0 333 1 334 2 335 0 337 0 338 1 339 1 340 0 341 2 342 0 344 0 345 2 346 1 347 0 349 0 350 1 351 1 352 2 353 0 356 0 357 1 358 0 359 1 360 0 362 0 363 1 364 2 365 1 367 1 368 2 369 1 370 3 371 1 375 1 376 0 377 1 378 2 379 1 380 0 381 1 382 0 383 0 384 1 386 1 387 0 388 1 389 0 390 1 391 1 392 0 393 1 394 2 395 1 396 0 397 1 398 0 400 0 401 2 402 1 403 1 404 0 405 0 406 1 407 0 408 2 409 1 410 0 411 3 412 2 413 0 414 1 415 0 416 1 417 1 418 0 421 0 422 1 423 0 424 1 425 0 426 0 427 1 430 1 431 0 432 1 433 1 434 0 435 1 436 0 437 1 438 0 439 1 440 0 441 2 442 1 444 1 445 0 446 0 447 1 448 1 449 0 450 1 451 1 452 0 454 0 455 1 456 0 457 2 458 1 459 1 460 2 461 0 462 0 463 1 464 1 465 2 466 0 467 0 468 1 469 0 470 0 471 1 473 1 474 2 475 1 476 0 477 0 478 1 479 0 480 0 481 2 482 0 483 1 484 1 485 0 486 1 487 1 488 0 489 2 490 0 491 1 493 1 494 3 495 0 496 1 497 1 498 0 502 0 503 1 504 0 507 0 508 1 509 2 510 1 511 0 512 1 513 1 514 0 516 0 517 1 518 3 519 1 520 0 521 0 522 1 523 0 524 1 525 1 526 0 527 1 528 1 529 0 530 0 531 1 532 1 533 0 534 0 535 1 536 1 537 0 538 0 539 1 541 1 542 0 543 1 544 0 545 1 546 0 547 1 548 1 549 0 550 1 551 0 552 0 553 1 554 1 555 0 556 0 557 1 559 1 560 0 561 1 562 0 563 1 564 2 565 0 566 1 567 1 568 0 569 2 570 1 571 1 572 0 574 0 575 2 576 1 577 1 578 4 579 1 580 1 581 0 582 2 583 1 588 1 589 0 593 0 594 1 597 1 598 0 599 1 604 1 605 0 606 1 607 0 608 0 609 2 610 1 611 1 612 0 613 1 614 0 615 0 616 1 622 1 623 2 624 1 625 0 626 0 627 1 629 1 630 0 632 0 633 1 634 0 635 1 636 0 637 1 640 1 641 2 642 0 643 1 644 1 645 0 646 0 647 1 648 1 649 0 650 1 656 1 657 0 659 0 660 1 665 1 666 0 667 1 668 1 669 0 671 0 672 1 673 0 674 1 675 1 676 0 677 0 678 1 681 1 682 0 683 1 684 0 685 1 686 0 687 1 688 0 692 0 693 1 694 0 695 0 696 1 697 0 699 0 700 1 701 0 702 0 703 1 704 0 708 0 709 1 710 1 711 0 712 1 713 0 714 1 715 1 716 0 717 2 718 0 719 0 720 1 721 0 722 0 723 1 724 3 725 0 726 1 727 2 728 1 729 0 730 0 731 1 732 1 733 0 734 1 735 0 736 1 737 0 739 0 740 1 741 0 746 0 747 1 748 1 749 0 750 2 751 0 752 1 753 1 754 2 755 1 756 1 757 0 758 0 759 1 760 1 761 0 762 0 763 1 764 0 765 1 766 0 767 1 768 1 769 0 770 1 771 0 772 1 774 1 775 0 777 0 778 1 779 0 780 0 781 1 782 1 783 0 786 0 787 1 788 1 789 0 790 0 791 1 792 1 793 0 794 1 795 0 796 0 797 1 798 1 799 3 800 1 801 1 802 3 803 2 804 4 805 3 806 5 807 5 808 4 809 6 810 5 811 2 812 5 813 0 814 4 815 6 816 6 817 5 818 2 819 5 820 1 821 4 822 5 823 4 824 0 825 5 826 10 827 7 828 6 829 6 830 5 832 5 833 2 834 1 835 10 836 4 837 7 838 1 839 1 840 5 841 9 842 3 843 5 844 4 846 4 847 5 848 6 849 4 850 5 851 1 852 6 853 5 854 4 855 5 856 4 857 4 858 6 859 2 860 6 861 6 862 3 863 6 864 7 865 3 866 5 867 5 868 3 869 6 870 6 871 4 872 2 873 6 874 4 875 2 876 4 877 1 878 4 879 7 880 1 881 6 882 2 883 4 884 3 885 6 886 5 887 4 888 3 889 4 890 6 891 3 892 5 893 5 894 2 895 6 896 5 897 8 898 7 899 4 900 5 901 3 902 3 903 7 904 4 905 4 906 5 907 6 908 6 909 5 910 11 911 5 912 8 913 2 914 3 915 1 916 5 917 7 918 7 919 8 920 4 921 6 922 4 923 6 924 5 925 7 926 4 927 5 928 3 929 4 930 4 931 3 932 6 933 5 934 6 935 3 936 2 937 0 938 4 939 6 940 10 941 8 942 1 943 1 944 5 945 4 946 6 947 3 948 4 949 6 950 5 951 6 952 4 953 6 954 5 955 4 956 3 957 3 958 1 959 7 960 3 961 5 962 4 965 4 966 7 967 5 968 5 969 1 970 2 971 10 972 3 973 2 974 8 975 2 976 6 977 6 978 5 979 6 980 3 981 3 982 4 984 4 985 5 986 3 987 2 988 5 989 4 990 6 991 10 992 5 993 1 994 1 995 6 996 5 997 5 998 0 999 0 1000 8 1001 5 1002 7 1003 0 1004 4 1005 7 1006 4 1007 3 1008 7 1009 8 1010 5 1011 3 1012 4 1013 4 1014 3 1015 3 1016 5 1017 4 1018 6 1019 4 1020 3 1021 6 1022 5 1023 4 1024 4 1025 5 1026 4 1027 4 1028 5 1029 6 1030 3 1031 4 1032 3 1033 4 1034 7 1035 5 1036 4 1037 4 1038 3 1039 5 1040 3 1041 4 1042 0 1043 3 1044 5 1045 4 1046 5 1047 3 1048 5 1049 6 1050 2 1051 5 1052 3 1053 4 1054 0 1055 4 1056 3 1057 4 1058 1 1059 3 1060 4 1061 5 1062 2 1063 3 1064 7 1065 5 1066 4 1067 0 1068 2 1069 5 1070 4 1072 4 1073 3 1074 4 1075 0 1076 6 1077 2 1078 2 1079 4 1080 3 1081 4 1082 2 1083 3 1084 4 1085 2 1086 3 1087 2 1089 2 1090 1 1091 4 1092 3 1093 0 1094 3 1095 2 1096 1 1097 0 1098 2 1099 7 1100 5 1101 4 1102 2 1103 1 1104 2 1105 2 1106 4 1107 3 1108 2 1109 3 1110 4 1111 1 1112 3 1113 0 1114 2 1115 1 1116 3 1117 3 1118 5 1119 4 1120 2 1121 1 1122 2 1125 2 1126 4 1127 4 1128 8 1129 2 1130 2 1131 3 1132 3 1133 1 1134 2 1135 0 1136 3 1137 3 1138 1 1139 3 1140 2 1141 2 1142 5 1143 3 1144 3 1145 1 1146 3 1147 2 1148 3 1149 2 1151 2 1152 0 1153 4 1154 3 1155 1 1156 0 1157 2 1158 2 1159 1 1160 1 1161 2 1162 3 1163 3 1164 0 1165 1 1166 0 1167 1 1168 2 1169 1 1170 3 1171 3 1172 2 1173 2 1174 5 1175 5 1176 1 1177 3 1178 5 1179 5 1180 3 1181 6 1182 4 1183 6 1184 3 1185 4 1187 4 1188 7 1189 3 1190 4 1191 5 1192 4 1193 10 1194 2 1195 8 1196 4 1197 6 1198 7 1199 5 1200 1 1201 4 1202 8 1203 5 1204 6 1205 0 1206 9 1207 3 1208 8 1209 2 1210 5 1211 3 1212 2 1213 6 1214 5 1215 6 1216 10 1217 3 1218 4 1219 3 1220 5 1221 4 1222 4 1223 3 1224 6 1225 4 1226 3 1227 5 1229 5 1230 4 1231 3 1232 4 1233 1 1234 2 1235 2 1236 5 1237 5 1238 4 1239 3 1240 5 1241 3 1242 4 1243 4 1244 2 1245 4 1246 3 1247 0 1248 2 1249 0 1250 4 1251 5 1252 3 1253 4 1254 1 1255 0 1256 4 1257 4 1258 1 1259 3 1260 2 1261 3 1262 1 1263 2 1264 1 1265 2 1266 2 1267 3 1268 1 1274 1 1275 0 1276 1 1280 1 1281 0 1283 0 1284 1 1285 1 1286 0 1288 0 1289 1 1290 2 1291 1 1292 1 1293 0 1294 1 1295 0 1296 1 1297 1 1298 2 1299 0 1300 2 1301 0 1302 1 1303 1 1304 0 1305 1 1306 1 1307 0 1309 0 1310 1 1311 1 1312 0 1313 0 1314 1 1315 0 1316 0 1317 1 1318 0 1319 1 1321 1 1322 0 1323 1 1324 0 1325 1 1327 1 1328 0 1329 0 1330 1 1331 1 1332 0 1333 1 1334 0 1336 0 1337 1 1338 1 1339 0 1341 0 1342 2 1343 0 1348 0 1349 1 1351 1 1352 2 1353 0 1354 1 1357 1 1358 0 1359 1 1360 1 1361 2 1362 1 1363 0 1364 0 1365 1 1366 1 1367 0 1368 1 1369 0 1372 0 1373 1 1375 1 1376 0 1377 1 1379 1 1380 0 1382 0 1383 2 1384 0 1385 1 1386 0 1387 0 1388 1 1389 0 1390 0 1391 1 1393 1 1394 0 1395 1 1396 0 1397 1 1398 0 1399 1 1400 0 1401 1 1402 0 1403 0 1404 1 1405 0 1406 1 1407 1 1408 0 1409 0 1410 1 1413 1 1414 0 1415 1 1416 0 1417 1 1418 0 1419 1 1420 2 1421 0 1422 0 1423 1 1424 0 1425 0 1426 1 1427 0 1428 0 1429 1 1430 2 1431 1 1432 0 1433 1 1435 1 1436 2 1437 1 1438 0 1440 0 1441 2 1442 0 1443 1 1444 1 1445 0 1446 0 1447 1 1448 0 1449 0 1450 1 1451 0 1452 1 1454 1 1455 0 1456 0 1457 1 1461 1 1462 0 1463 1 1465 1 1466 0 1467 0 1468 1 1469 0 1470 1 1471 0 1472 0 1473 1 1474 0 1475 1 1476 0 1477 1 1478 1 1479 0 1480 0 1481 1 1482 1 1483 0 1484 1 1487 1 1488 0 1490 0 1491 1 1495 1 1496 0 1497 2 1498 0 1499 1 1500 0 1501 1 1504 1 1505 3 1506 0 1508 0 1509 1 1511 1 1512 0 1514 0 1515 1 1516 1 1517 0 1518 0 1519 1 1520 0 1521 1 1522 0 1523 1 1524 0 1525 1 1526 0 1528 0 1529 1 1530 0 1531 1 1532 0 1533 0 1534 1 1536 1 1537 0 1539 0 1540 1 1541 1 1542 0 1545 0 1546 1 1554 1 1555 2 1556 2 1557 1 1558 1 1559 0 1560 1 1561 0 1563 0 1564 2 1565 0 1566 1 1567 0 1568 0 1569 2 1570 0 1571 0 1572 1 1573 1 1574 0 1575 1 1576 0 1577 1 1582 1 1583 0 1584 0 1585 1 1586 0 1587 1 1588 1 1589 0 1590 1 1591 1 1592 0 1593 2 1594 0 1595 1 1599 1 1600 0 1601 1 1602 0 1603 1 1604 1 1605 0 1606 0 1607 1 1608 1 1609 0 1610 0 1611 1 1612 0 1613 0 1614 1 1615 0 1616 1 1617 0 1618 1 1622 1 1623 0 1624 1 1627 1 1628 0 1629 1 1631 1 1632 0 1638 0 1639 1 1640 1 1641 0 1642 0 1643 1 1644 1 1645 0 1646 1 1647 0 1648 1 1650 1 1651 0 1652 1 1656 1 1657 0 1658 1 1659 0 1660 1 1661 1 1662 0 1663 1 1664 1 1665 0 1666 1 1668 1 1669 0 1670 0 1671 1 1672 1 1673 0 1674 1 1675 0 1676 1 1677 1 1678 0 1679 1 1680 1 1681 0 1688 0 1689 1 1690 1 1691 0 1692 1 1693 1 1694 0 1695 1 1696 0 1697 1 1698 1 1699 0 1701 0 1702 1 1704 1 1705 0 1706 0 1707 1 1708 0 1709 0 1710 1 1711 0 1712 1 1713 1 1714 0 1715 1 1716 0 1717 1 1719 1 1720 0 1721 0 1722 1 1723 1 1724 0 1725 1 1726 0 1727 0 1728 1 1730 1 1731 0 1732 1 1733 1 1734 0 1735 1 1736 3 1737 0 1739 0 1740 1 1744 1 1745 0 1747 0 1748 1 1749 0 1750 1 1754 1 1755 0 1756 1 1757 1 1758 0 1760 0 1761 1 1762 1 1763 0 1764 1 1765 0 1766 2 1767 1 1768 0 1769 1 1770 1 1771 0 1772 0 1773 1 1774 0 1775 1 1779 1 1780 0 1784 0 1785 1 1786 0 1787 0 1788 1 1789 1 1790 0 1791 0 1792 1 1793 0 1794 1 1795 0 1796 0 1797 1 1798 0 1800 0 1801 1 1802 0 1803 1 1805 1 1806 0 1807 0 1808 1 1809 0 1810 1 1811 0 1812 1 1815 1 1816 0 1817 0 1818 1 1820 1 1821 0 1822 1 1823 1 1824 0 1825 0 1826 1 1827 2 1828 1 1829 0 1830 1 1831 1 1832 0 1833 1 1834 2 1835 0 1837 0 1838 1 1839 1 1840 0 1841 0 1842 1 1843 1 1844 0 1846 0 1847 1 1848 1 1849 0 1851 0 1852 1 1853 1 1854 0 1858 0 1859 1 1860 0 1861 1 1862 1 1863 0 1864 1 1865 0 1869 0 1870 1 1871 0 1872 1 1873 1 1874 0 1876 0 1877 1 1880 1 1881 0 1882 0 1883 1 1889 1 1890 0 1891 0 1892 1 1895 1 1896 0 1897 0 1898 1 1899 1"/>
</g>
<path fill="none" stroke="#008000" stroke-width="0.5" stroke-opacity="0.8" d="M749.5 776.0 750.5 776.0 751.6 795.5 752.6 795.5 753.7 776.0 754.8 795.5 755.8 795.5 756.9 776.0 757.9 795.5 759.0 776.0 760.0 776.0"/>
<path fill="none" stroke="#33d3e0" stroke-width="0.5" stroke-opacity="0.8" d="M749.5 795.5 750.5 795.5 751.6 795.5 752.6 795.5 753.7 795.5 754.8 776.0 755.8 795.5 756.9 795.5 757.9 776.0 759.0 776.0 760.0 795.5"/>
<path fill="none" stroke="#ffd600" stroke-width="0.5" stroke-opacity="0.8" d="M749.5 776.0 750.5 776.0 751.6 795.5 752.6 795.5 753.7 795.5 754.8 795.5 755.8 776.0 756.9 795.5 757.9 776.0 759.0 776.0 760.0 795.5"/>
<path fill="none" stroke="#ff5f5f" stroke-width="0.5" stroke-opacity="0.8" d="M749.5 795.5 750.5 776.0 751.6 795.5 752.6 776.0 753.7 795.5 754.8 795.5 755.8 776.0 756.9 795.5 757.9 795.5 759.0 795.5 760.0 795.5"/>
<path fill="none" stroke="#8a2d74" stroke-width="0.5" stroke-opacity="0.8" d="M749.5 795.5 750.5 795.5 751.6 795.5 752.6 776.0 753.7 795.5 754.8 776.0 755.8 795.5 756.9 776.0 757.9 795.5 759.0 776.0 760.0 795.5"/>
<path fill="none" stroke="#9083d9" stroke-width="0.5" stroke-opacity="0.8" d="M749.5 776.0 750.5 795.5 751.6 776.0 752.6 795.5 753.7 776.0 754.8 776.0 755.8 795.5 756.9 795.5 757.9 795.5 759.0 795.5 760.0 776.0"/>
<path fill="none" stroke="#0892ff" stroke-width="0.5" stroke-opacity="0.8" d="M749.5 795.5 750.5 776.0 751.6 795.5 752.6 795.5 753.7 795.5 754.8 795.5 755.8 795.5 756.9 795.5 757.9 776.0 759.0 776.0 760.0 776.0"/>
<!-- chart 2 -->
<path d="M926 773.8H932.5" stroke="#4cc04c" stroke-width="0.8" fill="none"/>
<path d="M926 797.3H1263" stroke="#3aa0ff" stroke-width="0.9" fill="none"/>
<path d="M1251.5 774H1263" stroke="#ff6a6a" stroke-width="0.7" fill="none"/>
<path d="M1252.6 797L1255.3 774.4L1258.6 797" stroke="#ffd84a" stroke-width="0.7" fill="none"/>
<g transform="translate(933.00,797.40) scale(0.17568,-23.3300)" fill="none" stroke-linejoin="round">
<path vector-effect="non-scaling-stroke" stroke="#9083d9" stroke-width="0.5" d="M0 0 27 0 28 1 29 0 133 0 134 1 135 0 192 0 193 1 194 0 204 0 205 1 206 0 326 0 327 1 328 1 329 0 399 0 400 1 401 0 461 0 462 1 463 0 497 0 498 1 499 0 622 0 623 1 624 0 682 0 683 1 684 0 827 0 828 1 829 0 871 0 872 1 873 0 894 0 895 1 896 0 938 0 939 1 940 0 962 0 963 1 964 0 1002 0 1003 1 1004 0 1019 0 1020 1 1021 0 1101 0 1102 1 1103 0 1158 0 1159 1 1160 0 1161 1 1162 0 1228 0 1229 1 1230 0 1310 0 1311 1 1312 0 1371 0 1372 1 1373 0 1410 0 1411 1 1412 0 1482 0 1483 1 1484 0 1551 0 1552 1 1553 0 1582 0 1583 1 1584 0 1656 0 1657 1 1658 0 1719 0"/>
<path vector-effect="non-scaling-stroke" stroke="#0000ff" stroke-width="0.5" d="M0 0 113 0 114 1 115 0 242 0 243 1 244 0 567 0 568 1 569 0 714 0 715 1 716 0 734 0 735 1 736 0 737 1 738 0 784 0 785 1 786 0 862 0 863 1 864 0 1053 0 1054 1 1055 0 1115 0 1116 1 1117 0 1193 0 1194 1 1195 0 1247 0 1248 1 1249 0 1363 0 1364 1 1365 0 1719 0"/>
<path vector-effect="non-scaling-stroke" stroke="#33d3e0" stroke-width="0.5" d="M0 0 24 0 25 1 26 0 325 0 326 1 327 0 348 0 349 1 350 0 471 0 472 1 473 0 960 0 961 1 962 0 1017 0 1018 1 1019 0 1071 0 1072 1 1073 0 1185 0 1186 1 1187 0 1610 0 1611 1 1612 0 1637 0 1638 1 1639 0 1719 0"/>
<path vector-effect="non-scaling-stroke" stroke="#008000" stroke-width="0.5" d="M0 0 120 0 121 1 122 0 127 0 128 1 129 0 280 0 281 1 282 0 321 0 322 1 323 0 324 0 325 1 326 0 409 0 410 1 411 0 469 0 470 1 471 0 514 0 515 1 516 0 750 0 751 1 752 0 770 0 771 1 772 0 821 0 822 1 823 0 827 0 828 1 829 0 836 0 837 1 838 0 876 0 877 1 878 0 1064 0 1065 1 1066 0 1071 0 1072 1 1073 0 1220 0 1221 1 1222 0 1365 0 1366 1 1367 0 1372 0 1373 1 1374 0 1389 0 1390 1 1391 0 1406 0 1407 1 1408 0 1461 0 1462 1 1463 0 1520 0 1521 1 1522 0 1549 0 1550 1 1551 0 1719 0"/>
<path vector-effect="non-scaling-stroke" stroke="#3ccb3c" stroke-width="0.5" d="M0 0 94 0 95 1 96 0 123 0 124 1 125 0 147 0 148 1 149 0 194 0 195 1 196 0 219 0 220 1 221 0 338 0 339 1 340 0 405 0 406 1 407 0 881 0 882 1 883 0 999 0 1000 1 1001 0 1171 0 1172 1 1173 0 1191 0 1192 1 1193 0 1199 0 1200 1 1201 0 1286 0 1287 1 1288 0 1345 0 1346 1 1347 0 1409 0 1410 1 1411 0 1535 0 1536 1 1537 0 1555 0 1556 1 1557 0 1620 0 1621 1 1622 0 1719 0"/>
<path vector-effect="non-scaling-stroke" stroke="#8a2d74" stroke-width="0.5" d="M0 0 20 0 21 1 22 0 124 0 125 1 126 0 140 0 141 1 142 0 206 0 207 1 208 0 292 0 293 1 294 0 354 0 355 1 356 0 518 0 519 1 520 0 574 0 575 1 576 0 681 0 682 1 683 0 790 0 791 1 792 0 836 0 837 1 838 0 846 0 847 1 848 0 988 0 989 1 990 0 1114 0 1115 1 1116 0 1239 0 1240 1 1241 0 1293 0 1294 1 1295 0 1396 0 1397 1 1398 0 1408 0 1409 1 1410 0 1497 0 1498 1 1499 0 1522 0 1523 1 1524 0 1577 0 1578 1 1579 0 1616 0 1617 1 1618 0 1633 0 1634 1 1635 0 1719 0"/>
<path vector-effect="non-scaling-stroke" stroke="#ff5f5f" stroke-width="0.62" d="M0 0 1 19 2 19 3 18 4 17 5 17 6 18 7 18 8 20 9 15 10 18 11 18 12 17 13 18 14 21 15 21 16 15 17 20 18 15 19 16 20 17 21 16 22 20 23 21 24 15 25 19 26 19 27 17 30 17 31 15 32 18 33 19 34 19 35 16 36 19 37 16 38 17 39 16 40 15 41 19 42 17 43 20 44 18 45 20 46 17 47 17 48 20 49 16 50 17 51 18 52 20 53 19 54 19 55 22 56 21 57 16 58 19 59 16 60 18 61 22 62 19 63 23 64 17 65 13 66 22 67 17 68 16 69 21 70 18 71 17 72 15 73 16 74 18 75 18 76 20 77 17 78 17 79 19 80 20 81 22 82 22 83 16 84 18 85 19 86 15 87 16 88 15 89 18 90 17 91 18 92 16 93 19 94 17 95 16 96 16 97 13 98 19 99 20 100 16 101 17 102 22 103 20 104 21 105 19 107 19 108 21 109 22 110 19 111 19 112 20 113 20 114 18 115 17 116 17 117 22 118 17 119 18 120 18 121 16 122 19 123 18 124 19 125 21 126 18 127 19 128 17 129 20 130 19 131 20 132 21 133 16 134 21 135 16 136 17 137 23 138 21 139 17 140 19 141 17 142 21 143 14 144 18 145 16 146 18 147 21 148 19 149 19 150 20 151 17 152 16 153 16 154 17 155 20 156 18 157 18 158 19 159 16 160 20 161 20 162 16 163 21 164 16 165 19 166 17 167 20 168 20 169 19 170 19 171 13 172 16 173 18 174 19 175 16 176 19 177 22 178 15 179 20 180 22 181 18 183 18 184 19 185 10 186 19 187 18 188 19 189 17 190 18 191 19 192 20 193 18 194 20 195 17 196 18 197 19 198 22 199 17 200 19 201 17 202 19 203 17 204 20 205 16 206 21 207 19 208 18 209 19 211 19 212 20 213 18 214 16 215 16 216 17 217 17 218 20 219 16 220 18 221 19 222 21 223 16 224 18 225 22 226 13 227 20 228 15 229 18 230 17 231 18 232 19 233 21 234 15 235 21 236 21 237 16 238 19 239 19 240 21 241 20 242 18 243 18 244 20 245 16 246 19 247 19 248 17 249 22 250 19 251 22 252 20 253 20 254 16 255 17 256 19 257 18 258 16 259 22 260 22 261 19 262 19 263 18 264 17 265 19 266 18 267 19 268 22 269 22 270 18 271 19 272 18 273 20 274 17 275 21 276 19 277 16 278 18 279 20 280 20 281 17 282 20 283 20 284 17 285 19 286 14 287 18 288 16 289 20 290 20 291 18 292 19 293 21 294 16 295 18 296 20 297 19 298 18 299 11 300 16 301 20 302 17 303 19 304 18 305 20 306 16 307 19 308 19 309 16 310 19 311 20 312 20 313 17 314 17 315 16 316 16 317 15 318 19 319 18 320 18 321 22 322 19 323 20 324 16 325 18 326 16 327 19 328 14 329 17 330 17 331 19 332 16 333 19 335 19 336 20 337 18 338 19 339 19 340 20 341 20 342 18 343 20 344 17 345 20 346 16 347 22 348 17 349 18 350 18 351 20 352 11 353 17 354 19 355 19 356 16 357 22 358 22 359 17 360 18 361 16 362 16 363 18 364 22 365 14 366 22 367 18 368 18 369 17 370 19 371 18 374 18 375 19 376 18 377 17 378 19 379 19 380 18 381 15 382 18 383 17 384 16 385 17 386 15 387 15 388 16 389 20 390 18 391 15 392 18 393 11 394 21 395 20 396 18 397 19 398 17 399 17 400 18 401 17 402 19 403 16 404 19 405 17 406 19 407 20 408 22 409 16 410 19 411 21 412 18 413 21 414 17 415 18 416 24 417 20 418 20 419 18 420 18 421 21 422 18 423 21 424 17 425 15 426 19 427 16 428 19 429 21 430 21 431 16 432 18 433 20 434 18 435 19 436 12 437 18 438 19 439 17 440 19 441 19 442 17 443 17 444 18 445 19 446 18 447 19 448 20 449 16 450 19 451 20 452 19 453 17 454 16 455 19 456 19 457 20 458 18 459 18 460 19 461 22 462 20 463 22 464 18 465 20 466 19 467 21 468 18 469 21 470 20 471 17 472 18 474 18 475 17 476 13 477 19 479 19 480 18 481 19 482 16 483 17 484 19 487 19 488 14 489 16 490 16 491 21 492 20 493 16 494 20 495 20 496 18 497 20 498 19 499 18 500 19 501 22 502 20 503 15 504 17 505 21 506 22 507 15 508 20 509 16 510 21 511 18 512 20 513 19 514 17 515 17 516 16 517 15 518 13 519 17 520 19 521 17 522 19 523 18 524 19 525 19 526 18 527 14 528 15 529 21 530 18 531 15 532 17 533 18 534 21 535 22 536 18 537 20 538 16 539 18 540 18 541 16 542 20 543 18 544 21 545 16 546 22 547 20 548 17 549 19 550 19 551 21 552 18 553 17 554 17 555 19 556 17 557 18 558 14 559 18 560 15 561 19 562 21 563 19 564 18 565 21 566 15 567 17 568 20 569 17 570 12 571 17 572 19 574 19 575 23 576 19 577 19 578 20 579 15 580 22 581 19 582 22 583 19 584 21 585 19 587 19 588 18 589 22 590 20 591 21 592 16 593 15 594 19 595 22 596 16 597 17 598 15 599 18 600 20 601 18 602 19 603 13 604 15 605 19 606 19 607 17 608 19 609 19 610 20 611 16 612 18 613 22 614 17 616 17 617 20 618 17 619 16 620 23 621 16 622 19 623 22 624 20 625 19 626 19 627 18 628 16 629 17 630 20 631 16 632 21 633 16 634 18 635 17 636 16 637 18 639 18 640 19 641 19 642 21 643 18 644 15 645 17 646 18 647 22 648 19 649 17 650 19 651 16 652 18 653 17 654 15 655 19 656 17 657 16 658 14 659 19 660 16 661 22 662 17 663 21 664 20 665 21 666 23 667 15 668 22 669 19 670 16 671 22 672 18 673 16 674 21 675 19 676 19 677 18 678 20 679 19 680 17 681 18 682 20 683 18 684 17 685 19 687 19 688 16 689 16 690 18 691 19 692 18 693 21 694 21 695 19 696 18 697 18 698 15 699 18 700 16 701 21 702 15 703 20 704 17 705 15 706 18 708 18 709 13 710 13 711 21 712 18 713 19 714 10 715 17 716 16 717 18 718 19 719 15 720 18 721 18 722 14 723 17 725 17 726 18 727 19 730 19 731 17 732 16 733 13 734 14 735 16 736 18 737 17 738 17 739 19 740 23 741 17 742 17 743 15 744 19 745 17 746 13 747 17 748 17 749 20 750 17 751 18 752 16 753 19 754 15 755 17 756 18 757 17 758 19 759 18 763 18 764 16 765 17 767 17 768 18 769 17 770 15 771 17 772 19 773 18 774 14 775 15 776 18 777 15 778 18 779 22 780 19 781 16 782 18 783 11 784 17 785 14 786 16 787 14 788 16 789 16 790 19 791 18 792 20 793 19 794 17 795 19 796 16 797 17 798 16 799 16 800 19 801 16 802 18 803 17 804 19 805 18 806 12 807 18 808 22 809 18 810 19 811 18 812 20 813 16 815 16 816 15 817 16 818 19 819 15 820 16 821 21 822 18 823 16 824 16 825 17 826 17 827 19 828 18 829 16 830 17 831 15 832 16 833 20 834 15 835 16 836 20 837 18 838 17 839 16 840 16 841 18 842 17 843 18 844 18 845 15 846 14 847 18 848 19 849 17 850 19 851 12 852 17 853 16 854 16 855 18 856 13 857 16 858 19 859 17 860 15 861 18 862 13 863 19 864 16 865 19 866 18 867 15 868 17 869 17 870 18 871 15 872 19 873 16 874 11 875 16 876 16 877 17 878 20 879 17 880 20 882 20 883 18 884 19 886 19 887 17 888 19 889 19 890 18 891 14 892 18 893 18 894 12 895 15 896 19 897 17 898 20 899 17 900 15 901 16 902 13 903 19 904 15 905 22 906 14 907 17 908 15 909 15 910 17 911 15 912 21 913 17 914 13 915 17 916 16 918 16 919 15 920 14 921 17 924 17 925 20 926 16 927 16 928 22 929 18 930 15 931 16 932 16 933 17 934 17 935 22 936 23 937 17 938 18 939 18 940 17 941 16 942 18 943 18 944 17 945 16 946 22 947 16 948 17 949 22 950 17 952 17 953 20 954 17 955 22 956 20 957 17 958 20 959 16 960 20 961 16 962 18 963 19 964 18 965 19 966 22 967 15 968 23 969 18 970 17 971 17 972 18 973 16 974 16 975 19 976 18 977 19 978 10 979 15 980 15 981 18 982 20 983 15 984 17 985 22 986 15 987 21 988 15 989 16 990 14 991 18 992 11 993 17 994 17 995 16 997 16 998 18 999 16 1000 16 1001 13 1002 19 1004 19 1005 14 1006 17 1007 18 1008 19 1009 17 1010 16 1011 21 1012 17 1013 16 1014 18 1015 19 1016 16 1017 18 1018 18 1019 17 1020 17 1021 18 1022 9 1023 17 1024 13 1025 15 1026 18 1027 16 1028 16 1029 17 1030 14 1031 14 1032 19 1033 15 1034 16 1035 18 1036 16 1037 17 1038 14 1039 13 1040 17 1041 17 1042 19 1043 18 1044 16 1045 17 1046 16 1047 18 1048 16 1049 18 1050 18 1051 22 1052 15 1053 17 1054 15 1055 19 1056 16 1057 16 1058 13 1059 16 1061 16 1062 22 1063 17 1064 17 1065 13 1066 16 1067 20 1068 20 1069 13 1070 20 1071 17 1072 15 1073 18 1074 19 1075 18 1076 18 1077 20 1078 17 1079 18 1080 22 1081 17 1082 14 1083 19 1084 17 1085 15 1086 20 1087 23 1088 17 1089 17 1090 14 1091 17 1092 13 1093 15 1094 20 1095 17 1096 14 1097 15 1098 18 1099 16 1100 17 1101 17 1102 15 1103 19 1104 11 1105 16 1106 14 1107 16 1108 16 1109 15 1110 16 1111 17 1112 12 1113 15 1114 17 1116 17 1117 12 1118 13 1119 15 1120 18 1121 13 1122 13 1123 15 1124 15 1125 13 1126 12 1127 8 1128 12 1129 11 1130 12 1131 15 1132 14 1133 12 1134 14 1135 11 1136 13 1137 12 1138 13 1139 14 1140 11 1141 14 1142 12 1143 12 1144 8 1145 12 1146 12 1147 13 1148 12 1149 11 1150 17 1151 12 1152 16 1153 12 1154 11 1155 14 1156 14 1157 12 1158 13 1159 13 1160 10 1161 12 1162 9 1163 14 1164 10 1165 12 1166 10 1167 12 1169 12 1170 13 1171 12 1172 14 1173 13 1174 11 1175 11 1176 12 1177 14 1178 14 1179 12 1180 13 1181 12 1182 13 1183 11 1184 11 1185 13 1186 14 1187 13 1188 12 1189 13 1190 11 1191 15 1192 8 1193 13 1194 14 1195 11 1196 11 1197 12 1198 13 1199 14 1200 12 1201 13 1206 13 1207 11 1209 11 1210 15 1211 12 1212 12 1213 14 1214 14 1215 12 1216 14 1217 0 1218 11 1219 10 1220 14 1221 12 1222 14 1223 11 1224 10 1225 13 1226 12 1227 10 1228 13 1229 15 1230 13 1231 8 1232 11 1233 11 1234 9 1235 11 1236 11 1237 12 1238 12 1239 13 1241 13 1242 12 1243 11 1244 12 1245 13 1246 17 1247 11 1248 13 1249 0 1268 0 1269 16 1270 14 1271 11 1272 16 1273 18 1274 21 1275 22 1276 17 1277 18 1278 10 1279 18 1280 21 1281 18 1282 19 1283 18 1284 18 1285 19 1286 13 1287 16 1288 19 1289 16 1290 19 1291 16 1293 16 1294 18 1295 18 1296 13 1297 15 1298 15 1299 18 1300 17 1301 10 1302 18 1303 19 1304 17 1305 19 1306 20 1307 17 1308 15 1309 19 1310 17 1311 15 1312 16 1313 15 1314 20 1315 15 1316 20 1317 15 1318 14 1319 16 1320 20 1321 17 1322 20 1323 18 1324 17 1325 16 1326 20 1327 17 1328 16 1329 17 1330 19 1331 17 1332 20 1333 20 1334 18 1337 18 1338 16 1340 16 1341 14 1342 18 1343 15 1344 17 1345 14 1346 15 1347 18 1348 17 1349 18 1350 14 1351 16 1352 17 1353 19 1354 18 1355 19 1356 15 1357 17 1358 15 1359 20 1360 14 1361 15 1362 20 1363 15 1364 14 1365 20 1366 19 1367 16 1368 15 1369 17 1370 16 1371 14 1372 18 1373 15 1374 16 1375 14 1376 18 1377 17 1378 20 1379 15 1380 16 1381 16 1382 17 1383 16 1384 20 1385 16 1386 16 1387 12 1388 16 1389 20 1390 17 1391 15 1392 18 1393 16 1394 19 1395 13 1396 15 1397 19 1398 17 1399 17 1400 18 1401 18 1402 15 1403 15 1404 17 1405 18 1406 16 1407 19 1408 11 1409 16 1410 15 1411 10 1412 20 1413 16 1414 20 1415 18 1416 13 1417 20 1418 19 1419 20 1420 18 1421 17 1422 18 1423 16 1424 15 1425 16 1426 19 1427 15 1428 19 1429 19 1430 17 1431 16 1432 18 1433 16 1434 18 1435 17 1436 16 1437 15 1438 14 1439 16 1440 14 1441 15 1442 16 1443 15 1444 16 1445 17 1446 13 1447 15 1448 14 1450 14 1451 16 1452 18 1453 14 1456 14 1457 19 1458 17 1459 11 1460 15 1461 15 1462 12 1463 18 1464 15 1465 16 1466 12 1467 13 1470 13 1471 9 1472 14 1473 11 1474 15 1475 15 1476 10 1477 12 1478 14 1479 18 1480 13 1481 16 1482 17 1483 14 1484 12 1485 10 1486 11 1487 14 1488 14 1489 13 1490 16 1491 13 1492 14 1493 15 1496 15 1497 14 1498 16 1499 15 1500 11 1501 14 1502 14 1503 13 1504 16 1505 14 1506 14 1507 15 1508 12 1509 13 1510 13 1511 11 1512 14 1513 12 1514 14 1517 14 1518 13 1519 15 1520 13 1521 14 1522 14 1523 16 1524 14 1525 12 1526 17 1527 16 1528 14 1529 15 1530 12 1531 15 1532 13 1533 15 1534 14 1535 12 1536 14 1537 14 1538 13 1539 14 1540 15 1541 14 1542 12 1543 13 1544 13 1545 9 1546 12 1547 13 1548 11 1549 17 1550 14 1551 16 1552 13 1553 14 1554 14 1555 11 1556 10 1557 14 1558 13 1559 14 1560 14 1561 12 1563 12 1564 11 1565 12 1566 14 1567 15 1568 16 1569 15 1570 13 1571 12 1572 16 1573 14 1574 12 1575 12 1576 17 1577 15 1578 14 1579 14 1580 13 1581 15 1582 15 1583 16 1584 8 1585 15 1586 14 1587 16 1588 15 1589 8 1590 14 1591 16 1592 16 1593 12 1594 11 1595 15 1596 14 1597 15 1598 12 1599 15 1600 13 1601 13 1602 12 1603 14 1604 14 1605 12 1606 13 1607 14 1608 10 1609 14 1610 15 1611 14 1612 11 1613 14 1614 15 1615 14 1616 12 1617 15 1618 15 1619 16 1620 16 1621 15 1622 13 1623 10 1624 7 1625 13 1627 13 1628 12 1629 12 1630 15 1631 14 1632 14 1633 16 1634 11 1635 14 1636 11 1637 13 1638 14 1639 13 1640 12 1641 13 1642 15 1643 12 1644 10 1645 16 1646 11 1647 13 1648 10 1649 12 1650 16 1651 15 1652 13 1653 16 1654 13 1655 15 1656 14 1657 15 1658 13 1659 14 1660 13 1661 10 1662 17 1663 14 1664 14 1665 13 1666 11 1667 13 1668 14 1669 15 1670 14 1671 14 1672 15 1673 12 1674 15 1675 13 1676 14 1677 13 1678 15 1679 12 1680 16 1681 13 1682 13 1683 12 1684 12 1685 13 1686 11 1687 15 1688 13 1689 10 1690 14 1691 15 1692 14 1693 12 1694 13 1695 10 1696 11 1697 10 1698 11 1699 14 1700 15 1701 18 1702 13 1703 14 1704 12 1705 14 1706 14 1707 12 1708 15 1709 12 1710 13 1711 13 1712 12 1713 11 1714 13 1715 14 1716 16 1717 13 1718 16 1719 0"/>
<path vector-effect="non-scaling-stroke" stroke="#ffd600" stroke-width="0.7" d="M0 0 14 0 15 2 16 1 17 0 19 0 20 1 21 1 22 0 23 1 25 1 26 0 27 1 29 1 30 0 31 1 32 1 33 0 34 0 35 1 36 0 39 0 40 1 41 0 44 0 45 1 47 1 48 2 49 1 50 0 53 0 54 1 55 0 56 2 57 0 58 0 59 1 60 1 61 0 62 0 63 1 65 1 66 0 67 0 68 2 69 0 70 1 71 1 72 0 73 1 74 1 75 0 76 1 77 0 78 0 79 1 80 0 85 0 86 1 87 1 88 0 90 0 91 2 92 0 96 0 97 3 98 0 102 0 103 1 105 1 106 0 112 0 113 2 114 1 115 0 118 0 119 1 120 0 121 0 122 1 123 1 124 0 125 0 126 1 128 1 129 0 130 0 131 1 132 0 134 0 135 1 136 0 137 1 138 0 139 1 142 1 143 0 147 0 148 1 149 0 150 1 151 0 152 0 153 1 154 0 155 1 156 0 157 1 161 1 162 0 163 0 164 1 165 1 166 0 167 1 168 0 169 1 170 0 171 1 172 0 175 0 176 1 179 1 180 0 181 0 182 2 183 1 184 1 185 0 186 0 187 1 188 0 189 1 191 1 192 0 193 0 194 1 195 0 196 0 197 1 199 1 200 0 201 1 202 0 203 1 204 1 205 2 206 0 207 1 208 0 209 0 210 1 211 0 212 0 213 1 214 0 215 1 216 1 217 0 220 0 221 1 222 0 223 1 224 0 225 1 227 1 228 0 229 0 230 1 234 1 235 0 236 0 237 1 240 1 241 0 242 1 243 0 246 0 247 1 248 0 249 0 250 3 251 0 253 0 254 1 256 1 257 0 258 3 259 0 260 1 261 0 262 0 263 1 265 1 266 0 267 0 268 1 270 1 271 0 274 0 275 1 276 0 277 2 278 0 279 1 281 1 282 0 283 0 284 1 285 0 286 1 287 0 290 0 291 1 292 1 293 0 295 0 296 3 297 0 298 0 299 1 300 1 301 0 302 1 303 1 304 0 307 0 308 1 311 1 312 2 313 1 314 0 315 1 316 1 317 0 318 0 319 1 320 1 321 0 324 0 325 2 326 0 331 0 332 1 335 1 336 0 337 1 338 0 339 1 340 0 343 0 344 1 347 1 348 0 349 0 350 1 351 0 352 1 353 0 354 0 355 1 357 1 358 2 359 0 360 1 361 0 362 1 363 1 364 0 365 0 366 1 368 1 369 0 373 0 374 1 375 0 376 1 377 0 380 0 381 1 382 0 383 1 384 1 385 0 388 0 389 1 390 1 391 0 392 1 393 0 394 1 395 0 400 0 401 1 402 0 407 0 408 1 409 1 410 0 413 0 414 1 416 1 417 0 418 0 419 1 420 0 426 0 427 1 428 1 429 0 432 0 433 1 434 0 435 1 437 1 438 2 439 0 440 4 441 3 442 2 443 0 444 3 445 4 446 4 447 0 448 4 450 4 451 6 452 0 453 3 454 4 455 3 456 1 457 4 458 2 459 0 460 5 461 6 462 0 463 5 464 3 465 2 466 4 467 6 468 4 469 7 470 6 471 4 472 2 473 4 474 5 475 4 476 4 477 3 478 2 479 2 480 0 481 5 482 7 483 2 484 0 485 4 486 3 487 4 488 0 489 4 490 5 491 3 492 4 493 1 494 4 495 5 496 0 497 4 498 1 499 5 500 3 501 0 502 2 503 0 504 4 505 2 506 0 507 6 508 3 509 3 510 5 511 0 513 0 514 4 515 3 516 4 517 1 518 1 519 0 520 0 521 3 522 4 523 6 524 4 525 6 526 5 527 6 528 6 529 3 530 0 531 5 532 4 533 6 534 4 535 0 536 4 537 7 538 3 539 4 540 6 541 9 542 5 543 0 544 4 545 5 546 4 547 2 548 5 549 2 550 10 551 8 552 7 553 4 554 4 555 6 556 7 557 5 558 4 559 5 560 7 561 4 562 9 563 5 564 0 565 5 566 3 567 5 568 5 569 11 570 6 571 4 572 5 573 6 574 6 575 5 577 5 578 1 579 4 580 4 581 6 582 8 583 9 584 4 585 3 586 6 587 6 588 3 589 6 590 6 591 4 593 4 594 5 595 2 596 0 597 4 598 5 599 6 600 0 601 6 602 2 603 5 604 0 605 2 606 0 607 4 608 3 609 4 610 0 611 2 612 2 613 4 614 4 615 3 616 1 617 3 618 2 619 4 620 5 621 2 622 3 623 2 624 5 625 0 626 4 627 2 628 3 629 2 630 0 631 3 633 3 634 2 635 0 636 0 637 3 638 2 639 3 640 2 641 1 642 3 643 0 644 3 647 3 648 4 649 2 650 3 652 3 653 2 654 1 655 3 656 4 657 3 658 0 659 2 660 0 661 4 662 2 663 1 664 3 665 0 666 3 667 3 668 2 669 2 670 0 671 2 672 1 673 1 674 0 675 1 676 0 677 1 679 1 680 0 681 1 682 1 683 0 684 1 685 1 686 0 689 0 690 2 691 0 692 1 693 0 694 0 695 1 696 0 697 1 700 1 701 0 706 0 707 1 708 2 709 1 710 0 711 1 712 0 713 0 714 1 715 0 716 0 717 1 718 1 719 0 720 0 721 1 722 0 728 0 729 1 730 0 731 1 732 1 733 0 734 1 735 0 736 0 737 1 738 0 749 0 750 1 752 1 753 0 758 0 759 1 760 0 761 1 762 0 763 1 764 0 765 1 766 0 767 2 768 0 769 1 770 0 771 1 774 1 775 3 776 0 779 0 780 1 781 1 782 0 783 1 784 0 785 1 786 0 790 0 791 1 792 0 794 0 795 2 796 0 797 3 798 0 799 1 800 0 801 1 805 1 806 0 808 0 809 1 810 2 811 1 812 1 813 0 818 0 819 1 820 0 821 0 822 1 823 0 825 0 826 1 827 1 828 0 830 0 831 1 832 0 837 0 838 1 840 1 841 0 842 0 843 1 844 0 847 0 848 1 849 0 852 0 853 1 854 0 855 1 856 1 857 0 858 1 859 0 861 0 862 3 863 1 864 0 865 2 866 1 867 1 868 0 870 0 871 1 872 1 873 0 874 0 875 1 876 1 877 0 878 1 879 0 881 0 882 1 883 0 889 0 890 1 891 1 892 0 893 3 894 1 895 0 900 0 901 1 902 0 903 0 904 1 905 0 906 0 907 1 908 1 909 0 911 0 912 1 913 0 914 0 915 1 916 0 919 0 920 1 921 0 922 1 923 0 924 0 925 1 926 3 927 1 928 0 930 0 931 1 932 0 935 0 936 1 937 0 938 0 939 1 940 0 946 0 947 1 948 1 949 0 952 0 953 1 954 2 955 0 956 0 957 1 958 1 959 0 960 1 962 1 963 0 966 0 967 1 968 0 976 0 977 1 978 0 979 0 980 1 981 2 982 0 983 1 985 1 986 0 990 0 991 2 992 1 993 0 994 1 995 0 996 0 997 1 998 0 999 1 1000 0 1004 0 1005 1 1006 0 1010 0 1011 1 1012 0 1016 0 1017 1 1018 1 1019 0 1021 0 1022 2 1023 0 1024 1 1025 0 1026 1 1027 0 1028 1 1029 0 1031 0 1032 1 1037 1 1038 0 1041 0 1042 1 1043 1 1044 0 1051 0 1052 1 1053 0 1054 0 1055 1 1056 0 1057 0 1058 3 1059 1 1060 0 1061 3 1062 3 1063 2 1066 2 1067 1 1068 0 1069 1 1070 3 1071 1 1072 3 1073 3 1074 2 1075 4 1076 1 1077 0 1078 1 1079 1 1080 0 1081 6 1082 3 1083 4 1084 0 1085 3 1086 2 1087 2 1088 0 1089 4 1090 4 1091 3 1094 3 1095 4 1096 4 1097 1 1098 2 1099 3 1100 2 1101 3 1102 1 1103 2 1104 1 1105 1 1106 0 1107 1 1109 1 1110 2 1111 0 1112 1 1113 0 1114 0 1115 1 1116 3 1117 0 1118 1 1120 1 1121 0 1126 0 1127 1 1130 1 1131 0 1132 0 1133 1 1134 0 1135 1 1136 0 1137 0 1138 1 1139 0 1140 0 1141 1 1142 2 1143 1 1144 0 1146 0 1147 1 1148 0 1161 0 1162 1 1165 1 1166 0 1167 1 1168 0 1169 1 1170 0 1171 1 1172 0 1173 1 1174 1 1175 0 1177 0 1178 1 1179 0 1180 0 1181 1 1182 0 1184 0 1185 2 1186 2 1187 0 1188 1 1189 1 1190 0 1191 1 1192 0 1196 0 1197 1 1198 0 1199 1 1201 1 1202 0 1205 0 1206 1 1207 0 1208 0 1209 1 1210 0 1211 0 1212 2 1213 0 1214 0 1215 1 1217 1 1218 0 1220 0 1221 1 1222 1 1223 0 1224 1 1225 0 1230 0 1231 1 1232 0 1235 0 1236 1 1237 0 1239 0 1240 1 1241 0 1245 0 1246 1 1247 0 1248 0 1249 1 1250 1 1251 0 1252 1 1253 0 1254 0 1255 1 1256 0 1258 0 1259 1 1260 1 1261 0 1263 0 1264 3 1265 0 1266 0 1267 1 1268 0 1269 3 1270 0 1272 0 1273 1 1274 0 1275 0 1276 1 1277 0 1278 0 1279 1 1280 0 1282 0 1283 1 1284 0 1285 1 1290 1 1291 0 1292 0 1293 2 1294 0 1295 1 1296 0 1297 1 1298 0 1299 2 1300 1 1301 0 1304 0 1305 1 1306 0 1308 0 1309 2 1310 1 1311 0 1313 0 1314 3 1315 1 1317 1 1318 0 1319 0 1320 1 1321 0 1322 0 1323 1 1324 0 1325 0 1326 1 1327 0 1330 0 1331 1 1334 1 1335 0 1344 0 1345 1 1346 0 1352 0 1353 1 1354 0 1355 1 1356 1 1357 0 1358 0 1359 1 1361 1 1362 0 1363 0 1364 1 1365 0 1368 0 1369 1 1370 1 1371 0 1373 0 1374 1 1375 2 1376 0 1377 1 1378 0 1379 1 1380 0 1381 1 1382 0 1383 1 1384 0 1385 1 1386 0 1387 0 1388 1 1389 0 1392 0 1393 1 1394 0 1395 1 1396 0 1397 1 1398 1 1399 0 1400 1 1401 0 1404 0 1405 1 1406 1 1407 0 1408 1 1409 0 1411 0 1412 1 1416 1 1417 0 1418 0 1419 1 1420 0 1426 0 1427 1 1428 0 1432 0 1433 1 1434 1 1435 0 1436 1 1437 0 1438 1 1439 1 1440 0 1449 0 1450 1 1455 1 1456 0 1472 0 1473 1 1474 0 1475 1 1476 2 1477 1 1478 0 1479 1 1480 0 1481 1 1482 2 1483 0 1485 0 1486 1 1487 0 1488 0 1489 1 1494 1 1495 0 1496 1 1498 1 1499 0 1500 1 1502 1 1503 0 1504 0 1505 1 1506 0 1507 1 1508 1 1509 0 1513 0 1514 1 1515 0 1516 0 1517 1 1518 0 1519 0 1520 3 1521 2 1522 0 1523 1 1524 0 1535 0 1536 1 1537 3 1538 0 1544 0 1545 1 1546 0 1547 1 1549 1 1550 0 1551 3 1552 0 1554 0 1555 3 1556 3 1557 0 1558 2 1559 1 1560 2 1561 0 1562 3 1563 0 1564 3 1565 1 1566 1 1567 0 1568 1 1569 2 1570 3 1571 1 1572 0 1573 1 1574 0 1575 2 1576 2 1577 1 1578 1 1579 3 1580 1 1581 0 1582 1 1583 1 1584 4 1585 2 1586 0 1587 1 1588 3 1589 1 1590 0 1591 1 1592 2 1593 3 1594 2 1595 1 1598 1 1599 0 1600 0 1601 2 1602 0 1604 0 1605 1 1606 2 1607 1 1608 0 1609 3 1610 2 1611 0 1612 0 1613 3 1614 1 1616 1 1617 3 1618 0 1619 1 1621 1 1622 0 1624 0 1625 1 1626 0 1628 0 1629 1 1630 1 1631 0 1632 1 1633 0 1634 1 1635 1 1636 0 1637 1 1638 0 1640 0 1641 1 1642 0 1645 0 1646 1 1647 1 1648 0 1649 0 1650 1 1651 0 1652 1 1654 1 1655 0 1657 0 1658 1 1659 0 1662 0 1663 1 1665 1 1666 0 1671 0 1672 1 1674 1 1675 0 1676 0 1677 1 1678 0 1679 0 1680 1 1681 0 1682 0 1683 1 1684 0 1685 0 1686 1 1687 0 1688 1 1689 1 1690 0 1691 3 1692 0 1693 0 1694 1 1696 1 1697 0 1705 0 1706 1 1708 1 1709 0 1712 0 1713 1 1714 0 1715 1 1716 3 1717 1 1718 1 1719 0"/>
<path vector-effect="non-scaling-stroke" stroke="#ff5f5f" stroke-width="0.5" d="M0 0 1 1 2 1 3 0 5 0 6 1 7 0 8 0 9 1 10 0 11 0 12 1 13 1 14 0 15 0 16 1 17 0 18 0 19 1 20 0 21 1 22 1 23 0 30 0 31 1 32 0 36 0 37 2 38 1 39 1 40 0 41 0 42 1 43 0 44 1 45 0 49 0 50 1 51 1 52 0 53 1 54 0 55 1 56 0 57 2 58 0 59 1 60 0 65 0 66 1 67 0 68 0 69 1 70 0 71 3 72 3 73 2 74 1 75 2 76 4 77 3 78 3 79 5 80 4 81 5 82 3 83 0 84 3 85 3 86 4 87 3 89 3 90 5 91 3 92 1 93 3 94 3 95 4 96 2 98 2 99 3 100 2 101 4 102 4 103 3 104 1 105 5 106 0 107 4 108 4 109 3 110 4 112 4 113 5 114 2 115 1 116 5 117 2 118 4 119 6 120 4 121 2 122 4 124 4 125 5 126 3 127 0 128 6 129 4 130 5 131 6 132 5 133 4 134 2 135 3 136 5 137 4 138 4 139 10 140 5 141 4 142 6 143 1 144 5 146 5 147 4 148 3 149 0 150 6 151 3 152 5 153 4 154 1 155 5 158 5 159 6 160 6 161 4 162 5 163 6 164 0 165 6 166 0 167 5 168 6 169 5 171 5 172 4 173 7 174 4 175 3 176 4 177 4 178 6 179 5 180 4 181 4 182 2 183 3 184 1 185 7 186 3 187 4 188 10 189 5 190 5 191 7 192 5 194 5 195 0 196 4 197 0 198 4 199 4 200 5 201 7 202 2 203 6 204 8 205 5 206 5 207 10 208 6 209 6 210 4 211 5 212 6 213 8 214 0 215 0 216 8 217 3 218 5 219 5 220 6 221 9 222 4 223 3 224 7 225 4 226 5 227 7 228 0 229 8 230 7 231 0 232 6 233 7 234 4 235 7 236 4 237 7 238 7 239 9 240 0 241 5 242 7 243 5 244 3 245 6 246 6 247 4 248 7 249 7 250 4 251 6 252 2 253 4 254 4 255 5 256 6 257 6 258 5 259 5 260 6 261 5 262 8 263 5 264 5 265 7 266 5 267 7 268 7 269 6 270 4 271 5 272 5 273 6 274 6 275 5 277 5 278 4 279 5 281 5 282 4 283 8 284 7 285 6 286 5 287 6 288 5 289 7 290 6 291 5 292 3 293 3 294 6 295 4 296 5 297 8 298 1 299 4 300 0 301 5 302 6 303 3 304 7 305 5 306 8 307 5 308 6 309 2 310 6 311 6 312 4 313 7 314 5 315 7 316 0 317 1 318 5 319 10 320 5 321 6 322 4 323 6 324 5 325 4 326 4 327 7 328 5 329 6 330 7 331 9 332 7 333 4 334 5 335 2 336 5 337 5 338 1 339 5 341 5 342 0 343 3 344 5 345 8 346 5 347 4 348 4 349 7 350 3 351 7 352 4 353 5 354 6 355 4 356 4 357 1 358 4 359 0 360 6 361 0 362 5 363 4 364 3 365 6 366 5 367 6 368 5 369 4 370 2 371 4 372 3 373 4 374 2 375 1 376 4 377 5 378 9 379 6 380 2 381 5 382 4 383 2 384 5 385 2 386 3 387 2 388 4 389 4 390 3 391 4 392 6 393 3 394 3 395 4 396 4 397 5 398 6 399 0 400 5 402 5 403 3 404 4 405 6 406 0 407 5 408 4 409 2 410 4 411 0 412 3 413 1 414 3 415 3 416 5 417 4 420 4 421 7 422 3 423 2 424 2 425 3 426 5 427 1 428 3 429 4 430 3 431 4 432 0 433 4 434 4 435 1 436 2 437 2 438 3 443 3 444 2 445 3 446 1 447 3 448 1 449 1 450 2 451 2 452 3 453 1 454 2 455 0 456 1 457 0 458 1 460 1 461 3 462 0 463 0 464 1 467 1 468 0 470 0 471 1 472 0 473 1 474 0 475 1 477 1 478 2 479 1 480 0 481 1 482 0 483 1 487 1 488 2 489 0 490 0 491 1 492 1 493 0 494 1 495 1 496 0 497 0 498 1 499 1 500 0 501 1 502 0 503 0 504 1 505 0 507 0 508 1 509 1 510 0 515 0 516 1 517 0 518 2 519 0 520 1 521 1 522 0 527 0 528 1 529 1 530 0 533 0 534 1 535 1 536 0 537 0 538 1 539 0 540 0 541 1 542 1 543 0 547 0 548 1 549 0 550 1 551 1 552 0 554 0 555 1 556 0 560 0 561 1 562 1 563 0 564 1 565 3 566 1 568 1 569 0 572 0 573 1 574 0 575 1 578 1 579 0 580 0 581 1 582 2 583 1 585 1 586 0 587 1 588 1 589 0 592 0 593 1 594 1 595 0 596 1 597 0 598 0 599 1 600 3 601 0 602 1 603 0 604 0 605 1 606 0 608 0 609 1 610 0 611 1 612 1 613 3 614 0 615 1 616 0 618 0 619 1 621 1 622 0 623 1 624 1 625 0 626 1 628 1 629 0 631 0 632 1 633 1 634 0 639 0 640 1 641 0 642 0 643 1 644 0 645 1 646 1 647 0 649 0 650 1 651 0 652 0 653 1 654 0 655 1 656 1 657 0 658 1 659 1 660 0 661 1 662 1 663 0 667 0 668 1 669 1 670 0 672 0 673 1 677 1 678 0 681 0 682 1 683 1 684 0 685 0 686 1 687 1 688 0 694 0 695 1 696 2 697 0 698 0 699 1 700 1 701 0 704 0 705 1 706 0 707 1 709 1 710 0 714 0 715 1 716 0 718 0 719 1 720 0 721 0 722 1 723 1 724 0 725 0 726 1 727 0 728 0 729 1 730 0 735 0 736 1 737 0 738 1 739 1 740 0 745 0 746 4 747 0 748 1 749 0 750 0 751 1 752 1 753 0 754 0 755 1 756 0 757 1 758 1 759 2 760 0 761 0 762 1 766 1 767 0 768 0 769 1 770 1 771 0 772 1 773 0 774 2 775 0 776 0 777 1 778 0 783 0 784 1 785 0 787 0 788 1 790 1 791 0 792 1 793 0 794 1 797 1 798 0 799 0 800 1 801 0 802 1 803 3 804 0 805 1 806 1 807 0 809 0 810 1 811 0 813 0 814 1 815 2 816 0 817 2 818 0 819 1 820 0 821 1 822 0 824 0 825 1 827 1 828 0 829 0 830 1 831 0 832 0 833 1 834 1 835 2 836 0 837 1 839 1 840 0 842 0 843 1 844 1 845 0 853 0 854 1 855 0 856 0 857 1 858 0 863 0 864 1 866 1 867 0 870 0 871 1 874 1 875 0 876 1 877 1 878 0 879 1 882 1 883 0 884 0 885 1 886 1 887 0 888 1 889 1 890 0 891 0 892 1 893 1 894 0 895 1 896 1 897 0 902 0 903 1 904 0 905 1 906 0 907 1 908 1 909 0 910 1 911 0 919 0 920 2 921 0 924 0 925 1 927 1 928 0 929 0 930 1 931 0 932 1 933 0 935 0 936 1 937 0 938 1 939 0 941 0 942 1 944 1 945 0 946 1 947 0 948 0 949 1 951 1 952 0 953 1 954 0 955 0 956 1 957 0 958 0 959 1 960 1 961 0 962 1 963 0 964 1 965 0 966 1 967 1 968 0 969 0 970 1 971 0 972 0 973 1 974 0 975 2 976 1 977 0 978 1 979 1 980 0 988 0 989 1 990 1 991 0 992 1 993 1 994 0 995 1 996 3 997 1 998 0 1002 0 1003 1 1004 1 1005 0 1006 1 1008 1 1009 0 1010 1 1011 0 1012 0 1013 1 1014 1 1015 0 1016 0 1017 2 1018 0 1019 0 1020 1 1021 0 1024 0 1025 1 1026 0 1030 0 1031 1 1032 1 1033 0 1034 1 1035 0 1039 0 1040 1 1041 0 1042 1 1043 0 1044 1 1046 1 1047 0 1048 0 1049 1 1051 1 1052 0 1053 1 1054 0 1055 1 1058 1 1059 0 1060 1 1061 1 1062 0 1063 1 1064 0 1067 0 1068 1 1072 1 1073 0 1076 0 1077 1 1078 0 1079 0 1080 1 1081 0 1087 0 1088 3 1089 1 1090 2 1091 1 1092 0 1093 1 1094 0 1095 1 1096 0 1102 0 1103 1 1104 0 1105 0 1106 1 1107 0 1108 1 1109 1 1110 0 1111 1 1112 0 1114 0 1115 1 1116 0 1117 1 1118 0 1119 1 1120 1 1121 0 1122 1 1123 0 1124 1 1125 0 1128 0 1129 1 1130 1 1131 0 1132 1 1133 0 1135 0 1136 1 1137 0 1142 0 1143 1 1144 0 1145 1 1146 1 1147 0 1148 2 1149 1 1150 0 1152 0 1153 1 1154 0 1155 0 1156 1 1157 2 1158 1 1159 0 1163 0 1164 1 1165 1 1166 0 1167 0 1168 1 1169 0 1170 1 1172 1 1173 0 1174 1 1175 0 1176 0 1177 1 1178 0 1181 0 1182 1 1185 1 1186 0 1188 0 1189 1 1190 0 1191 0 1192 1 1194 1 1195 0 1196 0 1197 2 1198 0 1200 0 1201 1 1202 1 1203 0 1204 0 1205 1 1206 1 1207 0 1211 0 1212 1 1214 1 1215 0 1216 0 1217 1 1218 0 1219 1 1220 0 1221 0 1222 1 1223 0 1227 0 1228 1 1229 0 1230 1 1231 0 1232 1 1234 1 1235 0 1239 0 1240 2 1241 0 1242 0 1243 1 1244 0 1245 1 1246 0 1247 0 1248 1 1254 1 1255 0 1256 1 1257 0 1259 0 1260 1 1261 1 1262 0 1263 1 1265 1 1266 0 1269 0 1270 1 1271 1 1272 0 1273 1 1274 0 1276 0 1277 4 1278 1 1279 0 1281 0 1282 1 1283 1 1284 0 1285 0 1286 1 1289 1 1290 4 1291 0 1292 1 1293 2 1294 0 1295 3 1296 0 1297 1 1298 0 1299 1 1300 0 1301 1 1302 0 1303 1 1304 0 1305 0 1306 1 1307 0 1308 0 1309 1 1310 0 1311 1 1313 1 1314 0 1318 0 1319 1 1320 2 1321 0 1322 1 1323 0 1324 0 1325 1 1326 0 1327 1 1333 1 1334 0 1337 0 1338 1 1339 0 1342 0 1343 1 1344 0 1345 1 1347 1 1348 0 1349 0 1350 1 1351 1 1352 0 1353 0 1354 1 1355 0 1356 1 1357 0 1358 1 1361 1 1362 0 1363 1 1364 1 1365 0 1366 0 1367 1 1368 0 1369 1 1370 0 1371 1 1373 1 1374 0 1375 0 1376 1 1378 1 1379 0 1380 1 1382 1 1383 0 1384 1 1385 0 1388 0 1389 1 1390 0 1392 0 1393 1 1394 0 1395 1 1396 0 1397 1 1398 0 1399 1 1400 0 1401 1 1402 2 1403 1 1404 0 1405 1 1406 1 1407 0 1409 0 1410 1 1411 1 1412 0 1413 1 1414 0 1417 0 1418 1 1419 2 1420 0 1421 1 1422 2 1423 0 1424 1 1425 0 1426 1 1427 0 1429 0 1430 1 1432 1 1433 0 1434 1 1435 0 1437 0 1438 1 1439 0 1440 1 1441 0 1443 0 1444 1 1445 0 1446 0 1447 1 1448 0 1450 0 1451 1 1456 1 1457 0 1459 0 1460 1 1461 4 1462 1 1463 1 1464 0 1465 0 1466 1 1467 0 1468 1 1469 0 1472 0 1473 1 1474 0 1475 1 1476 0 1478 0 1479 1 1480 2 1481 1 1482 0 1483 1 1484 0 1485 1 1486 0 1487 1 1488 0 1489 0 1490 1 1491 0 1492 0 1493 1 1494 3 1495 3 1496 1 1497 1 1498 2 1499 2 1500 1 1501 2 1503 2 1504 3 1505 1 1506 1 1507 3 1508 2 1509 1 1510 2 1511 1 1512 2 1513 0 1514 2 1515 3 1516 2 1517 0 1518 2 1519 2 1520 3 1521 1 1522 0 1523 2 1524 1 1526 1 1527 2 1528 3 1529 2 1530 2 1531 0 1532 2 1533 2 1534 1 1535 2 1536 1 1537 1 1538 0 1539 1 1540 2 1542 2 1543 1 1544 2 1545 1 1546 2 1547 3 1548 1 1549 1 1550 2 1551 2 1552 3 1553 0 1554 1 1555 2 1557 2 1558 3 1559 0 1560 1 1561 2 1562 1 1566 1 1567 0 1568 0 1569 1 1570 0 1571 1 1572 2 1573 1 1574 1 1575 2 1576 1 1577 1 1578 0 1579 0 1580 1 1581 0 1582 0 1583 1 1584 0 1586 0 1587 1 1588 0 1589 0 1590 1 1591 1 1592 0 1594 0 1595 1 1596 0 1597 1 1598 1 1599 0 1600 1 1601 0 1602 1 1603 0 1604 1 1605 0 1606 1 1607 2 1608 0 1610 0 1611 1 1612 1 1613 0 1614 1 1615 0 1618 0 1619 1 1620 0 1621 0 1622 1 1623 0 1624 1 1625 0 1626 1 1627 1 1628 0 1630 0 1631 1 1632 0 1633 0 1634 1 1635 0 1636 0 1637 1 1638 4 1639 0 1642 0 1643 1 1644 0 1645 0 1646 1 1647 0 1650 0 1651 1 1652 0 1653 0 1654 1 1655 0 1656 1 1657 0 1658 1 1659 0 1660 1 1661 0 1663 0 1664 1 1665 0 1667 0 1668 1 1669 0 1670 0 1671 1 1672 0 1673 0 1674 1 1675 0 1676 0 1677 1 1678 0 1680 0 1681 1 1682 0 1683 0 1684 1 1685 0 1686 0 1687 1 1689 1 1690 0 1691 1 1692 0 1694 0 1695 2 1696 0 1697 2 1698 1 1699 0 1701 0 1702 1 1704 1 1705 0 1706 1 1707 0 1708 1 1709 0 1710 1 1711 1 1712 0 1713 1 1714 0 1716 0 1717 1 1718 0 1719 0"/>
<path vector-effect="non-scaling-stroke" stroke="#0892ff" stroke-width="0.7" d="M0 0 11 0 12 1 13 0 14 1 15 0 16 0 17 1 18 0 19 1 21 1 22 3 23 0 24 1 25 0 26 1 27 0 28 1 29 2 30 1 31 1 32 0 35 0 36 1 37 0 38 3 39 1 40 0 41 2 42 0 43 1 44 2 45 1 46 0 47 1 48 1 49 0 50 1 51 0 52 0 53 1 62 1 63 0 64 1 65 1 66 0 67 2 68 3 69 1 70 1 71 0 72 2 73 0 74 2 75 2 76 1 77 0 78 0 79 1 80 0 81 1 82 0 83 0 84 1 85 2 86 1 87 0 88 2 89 1 90 2 91 3 92 0 94 0 95 1 96 1 97 2 98 0 99 1 100 0 101 1 102 0 103 0 104 1 105 1 106 0 108 0 109 4 110 1 111 0 112 2 113 1 115 1 116 2 117 1 123 1 124 0 125 1 126 2 127 1 128 0 129 1 130 1 131 0 132 2 133 1 134 1 135 0 136 0 137 1 138 0 140 0 141 1 142 0 143 3 144 0 145 1 149 1 150 0 151 0 152 1 153 2 154 0 155 1 159 1 160 2 161 1 163 1 164 0 166 0 167 2 168 1 169 0 170 2 171 1 172 0 173 1 174 0 175 0 176 2 177 1 178 0 180 0 181 1 182 0 183 0 184 3 185 1 186 0 191 0 192 1 193 1 194 0 195 1 196 0 198 0 199 1 201 1 202 2 203 2 204 3 205 3 206 0 207 0 208 1 209 1 210 0 211 0 212 1 214 1 215 0 221 0 222 1 223 1 224 0 226 0 227 1 228 0 229 2 230 0 231 2 232 0 233 1 234 1 235 0 238 0 239 1 240 1 241 0 242 1 244 1 245 0 246 2 247 1 248 1 249 0 251 0 252 2 253 1 254 1 255 0 256 1 257 1 258 0 259 1 261 1 262 0 263 1 264 0 265 1 266 0 268 0 269 1 270 1 271 0 272 0 273 1 276 1 277 0 278 1 279 0 280 3 281 0 282 1 283 2 284 2 285 0 286 1 287 0 290 0 291 1 293 1 294 0 295 0 296 1 297 0 298 0 299 1 300 2 301 1 302 1 303 0 304 1 306 1 307 0 308 1 309 0 311 0 312 1 313 2 314 0 315 1 316 1 317 0 318 1 319 0 320 0 321 1 322 0 323 2 324 1 325 0 326 2 327 1 328 1 329 0 332 0 333 2 334 1 335 1 336 0 337 1 338 0 339 0 340 1 342 1 343 0 344 0 345 1 346 0 347 1 348 0 349 2 350 1 351 0 353 0 354 3 355 3 356 1 357 1 358 2 359 0 361 0 362 1 363 0 364 0 365 1 366 0 367 2 368 0 369 1 370 0 371 2 372 1 373 1 374 0 375 0 376 1 377 0 378 2 379 0 380 1 381 0 384 0 385 1 387 1 388 0 389 1 390 0 391 1 392 0 393 4 394 1 396 1 397 0 398 0 399 3 400 1 401 0 402 0 403 3 404 0 406 0 407 1 408 1 409 0 410 1 411 0 413 0 414 3 415 1 416 0 417 1 418 2 419 1 420 0 421 1 422 2 423 1 424 1 425 0 426 0 427 1 428 1 429 0 430 1 431 0 432 1 433 1 434 0 435 1 436 1 437 0 438 0 439 1 440 1 441 3 442 1 443 2 444 1 445 1 446 2 447 2 448 1 449 0 453 0 454 1 455 0 457 0 458 1 459 1 460 0 461 1 463 1 464 0 465 2 466 0 467 0 468 1 469 1 470 0 471 0 472 3 473 1 474 1 475 0 476 0 477 1 480 1 481 0 482 0 483 1 484 3 485 3 486 1 487 0 489 0 490 4 491 1 493 1 494 0 498 0 499 1 500 1 501 0 502 1 504 1 505 0 506 1 507 1 508 0 511 0 512 1 513 1 514 0 516 0 517 1 518 0 520 0 521 1 522 0 523 2 524 0 525 0 526 1 527 0 529 0 530 1 531 0 533 0 534 1 536 1 537 0 538 1 539 0 541 0 542 1 543 1 544 0 545 0 546 2 547 0 548 2 549 1 553 1 554 0 555 0 556 1 557 1 558 0 559 1 560 3 561 1 562 1 563 0 564 1 565 0 567 0 568 1 569 0 570 0 571 1 572 4 573 1 574 1 575 0 577 0 578 1 579 0 580 1 582 1 583 0 587 0 588 3 589 0 590 0 591 1 592 1 593 0 594 0 595 1 596 1 597 0 598 1 599 0 600 1 602 1 603 0 604 0 605 1 606 0 607 1 608 1 609 0 610 1 611 1 612 0 613 1 614 0 615 1 616 0 617 0 618 1 621 1 622 0 625 0 626 1 627 1 628 0 629 0 630 4 631 1 632 0 633 2 634 0 635 1 636 0 637 2 638 1 639 1 640 2 641 1 642 0 643 1 644 2 645 1 646 3 647 0 648 1 650 1 651 0 652 0 653 1 655 1 656 0 657 2 658 2 659 1 661 1 662 0 663 0 664 1 665 0 667 0 668 3 669 0 670 0 671 1 672 0 673 1 674 0 675 1 677 1 678 0 679 1 681 1 682 0 685 0 686 2 687 0 689 0 690 3 691 1 692 0 695 0 696 1 697 1 698 0 699 1 700 1 701 2 702 1 703 0 705 0 706 1 707 1 708 0 709 1 710 0 711 0 712 1 713 0 714 1 715 3 716 3 717 2 718 2 719 1 720 4 721 4 722 3 723 4 724 3 725 5 726 4 727 3 729 3 730 4 731 3 732 4 733 3 736 3 737 8 738 4 739 4 740 0 741 5 742 1 743 5 744 5 745 3 746 10 747 7 748 3 749 0 750 4 751 4 752 5 753 4 754 4 755 5 756 2 757 5 758 3 759 4 760 3 761 2 762 5 763 4 764 6 765 4 766 3 767 3 768 4 769 3 770 3 771 8 772 5 773 5 774 1 775 2 776 4 777 3 778 3 779 6 780 2 781 7 782 7 783 4 784 4 785 2 786 5 787 4 788 3 789 5 790 4 791 0 792 4 793 5 794 5 795 4 796 5 797 4 798 5 799 6 800 2 801 7 802 3 803 4 804 6 805 4 806 1 807 6 808 1 809 1 810 4 811 5 812 3 813 1 814 6 815 4 816 5 817 5 818 6 819 6 820 0 821 3 822 3 823 11 824 4 825 3 826 6 827 5 829 5 830 6 831 7 832 2 833 3 834 4 835 1 836 6 837 3 838 4 839 5 841 5 842 2 843 4 844 9 845 6 846 2 847 5 848 4 850 4 851 8 852 3 853 4 854 9 855 7 856 4 857 7 858 6 859 3 860 2 861 5 862 7 863 3 864 5 865 5 866 4 867 5 868 1 869 1 870 7 871 5 872 1 873 4 874 4 875 6 876 0 877 5 878 7 879 3 880 4 881 1 882 3 883 4 884 2 885 1 886 0 887 5 888 4 889 6 890 7 891 3 892 4 893 5 894 2 895 3 896 5 897 4 898 7 899 4 901 4 902 6 903 2 904 4 905 5 906 1 907 0 908 3 909 7 910 6 911 9 912 7 913 3 914 3 915 10 916 5 917 6 918 3 919 6 920 5 921 1 922 5 923 7 924 7 925 5 926 3 927 2 928 3 929 9 930 3 931 6 932 7 933 3 934 5 935 7 936 4 937 3 938 3 939 5 940 3 941 3 942 2 943 6 944 3 945 4 946 7 947 9 948 5 949 2 950 5 952 5 953 4 954 8 955 4 956 1 957 4 958 4 959 6 960 1 961 6 962 3 963 2 964 10 965 0 966 2 967 1 968 4 969 2 970 0 971 3 972 2 973 5 974 3 975 2 976 2 977 1 978 2 979 4 980 3 981 2 982 2 983 5 984 2 986 2 987 1 988 0 989 1 990 4 991 1 992 3 993 2 994 2 995 3 996 8 997 5 998 2 999 3 1000 0 1001 3 1002 5 1003 2 1004 2 1005 4 1006 1 1007 1 1008 2 1009 3 1010 2 1011 4 1012 3 1013 4 1014 0 1015 2 1016 1 1017 3 1018 4 1019 2 1020 0 1021 1 1023 1 1024 3 1025 1 1026 2 1030 2 1031 0 1032 1 1033 3 1034 4 1035 3 1036 3 1037 5 1038 3 1039 3 1040 1 1041 2 1042 0 1043 2 1044 1 1045 3 1046 2 1048 2 1049 3 1050 4 1051 1 1052 4 1053 5 1054 1 1055 1 1056 3 1057 4 1058 2 1059 0 1060 1 1061 3 1062 4 1063 6 1064 4 1065 4 1066 3 1067 6 1068 3 1069 2 1070 7 1071 1 1072 1 1073 6 1074 3 1075 3 1076 4 1077 5 1078 6 1079 3 1080 7 1081 5 1082 4 1083 3 1084 6 1085 5 1086 4 1087 10 1088 1 1089 3 1090 7 1091 4 1092 3 1093 6 1094 0 1095 4 1096 1 1097 6 1098 0 1099 5 1100 6 1101 2 1102 4 1103 4 1104 5 1105 2 1106 4 1107 3 1108 6 1109 3 1110 5 1111 4 1112 4 1113 3 1114 5 1115 2 1116 5 1117 4 1118 4 1119 0 1120 3 1121 3 1122 4 1123 4 1124 3 1125 3 1126 4 1127 0 1128 1 1129 3 1131 3 1132 2 1133 3 1134 2 1135 1 1136 4 1137 2 1138 1 1139 3 1140 4 1141 2 1142 1 1143 2 1144 0 1145 1 1146 2 1147 2 1148 1 1149 1 1150 0 1154 0 1155 1 1156 0 1157 1 1159 1 1160 0 1161 1 1163 1 1164 0 1165 2 1166 1 1167 2 1168 0 1169 2 1170 1 1171 1 1172 2 1173 1 1174 1 1175 0 1177 0 1178 1 1179 0 1180 0 1181 1 1183 1 1184 0 1185 1 1186 1 1187 0 1188 1 1189 0 1190 1 1191 0 1192 1 1199 1 1200 2 1201 1 1202 1 1203 0 1204 1 1205 2 1206 1 1207 0 1208 1 1210 1 1211 0 1212 1 1214 1 1215 0 1216 3 1217 1 1218 1 1219 2 1220 0 1221 1 1222 0 1223 1 1224 0 1225 1 1227 1 1228 0 1230 0 1231 1 1232 0 1234 0 1235 1 1236 2 1237 2 1238 1 1239 1 1240 0 1241 1 1242 1 1243 0 1244 2 1245 0 1246 1 1247 0 1249 0 1250 1 1251 1 1252 2 1253 1 1254 0 1255 1 1256 2 1257 0 1258 0 1259 3 1260 0 1261 2 1262 1 1263 1 1264 2 1265 0 1266 0 1267 1 1268 2 1269 0 1270 1 1271 1 1272 0 1273 0 1274 1 1276 1 1277 0 1282 0 1283 2 1284 0 1285 2 1286 0 1287 0 1288 3 1289 3 1290 1 1291 0 1292 1 1293 0 1294 2 1295 2 1296 0 1297 2 1298 1 1304 1 1305 0 1306 0 1307 1 1308 2 1309 1 1310 0 1311 1 1314 1 1315 0 1316 1 1319 1 1320 0 1321 0 1322 1 1324 1 1325 2 1326 0 1327 0 1328 1 1329 0 1340 0 1341 1 1342 2 1343 1 1344 1 1345 0 1350 0 1351 2 1352 1 1353 1 1354 4 1355 0 1356 1 1357 1 1358 0 1359 2 1360 0 1361 3 1362 0 1363 0 1364 3 1365 0 1370 0 1371 1 1372 1 1373 0 1374 3 1375 0 1376 0 1377 1 1378 1 1379 0 1380 1 1381 0 1382 1 1383 0 1384 1 1385 1 1386 0 1387 1 1388 2 1389 1 1390 1 1391 0 1392 1 1393 1 1394 0 1395 1 1396 1 1397 0 1398 3 1399 1 1400 0 1402 0 1403 1 1404 4 1405 1 1406 0 1407 3 1408 1 1409 0 1413 0 1414 1 1415 0 1417 0 1418 1 1424 1 1425 2 1426 1 1431 1 1432 0 1433 0 1434 1 1436 1 1437 0 1438 0 1439 1 1440 1 1441 0 1442 1 1443 0 1444 0 1445 1 1447 1 1448 2 1449 0 1450 1 1451 0 1452 1 1453 3 1454 3 1455 0 1456 1 1457 0 1458 0 1459 2 1460 1 1461 0 1469 0 1470 1 1471 0 1472 1 1473 0 1474 3 1475 1 1476 0 1478 0 1479 1 1480 1 1481 0 1482 1 1483 0 1484 1 1485 0 1486 1 1487 3 1488 1 1489 1 1490 0 1491 0 1492 2 1493 0 1494 1 1496 1 1497 2 1498 0 1500 0 1501 2 1502 0 1503 2 1504 0 1505 1 1508 1 1509 2 1510 1 1511 2 1512 1 1513 0 1517 0 1518 1 1519 1 1520 0 1521 0 1522 1 1523 0 1524 1 1527 1 1528 0 1529 0 1530 1 1531 1 1532 0 1534 0 1535 1 1536 0 1538 0 1539 1 1541 1 1542 0 1543 1 1544 2 1545 1 1548 1 1549 0 1550 1 1551 0 1552 1 1553 0 1555 0 1556 1 1557 0 1558 1 1559 1 1560 0 1561 2 1562 3 1563 1 1564 1 1565 0 1566 0 1567 1 1568 1 1569 0 1570 1 1573 1 1574 0 1575 1 1576 3 1577 1 1578 0 1579 1 1580 0 1583 0 1584 1 1585 1 1586 0 1587 0 1588 1 1591 1 1592 2 1593 0 1594 2 1595 1 1596 0 1597 0 1598 1 1600 1 1601 0 1602 0 1603 1 1604 0 1605 1 1606 0 1607 1 1608 1 1609 0 1610 1 1614 1 1615 0 1617 0 1618 1 1622 1 1623 0 1624 0 1625 1 1626 0 1627 1 1628 0 1629 1 1630 1 1631 2 1632 1 1633 1 1634 0 1636 0 1637 1 1638 1 1639 2 1640 1 1641 0 1642 0 1643 1 1644 2 1645 4 1646 1 1647 0 1648 0 1649 1 1650 0 1651 1 1652 0 1653 1 1654 0 1655 3 1656 1 1657 0 1658 0 1659 1 1660 1 1661 0 1662 1 1663 0 1664 1 1665 0 1666 1 1669 1 1670 2 1671 0 1672 1 1673 2 1674 1 1675 1 1676 0 1677 1 1678 0 1679 1 1680 0 1681 2 1682 0 1684 0 1685 1 1686 3 1687 1 1688 1 1689 0 1692 0 1693 2 1694 1 1697 1 1698 0 1699 1 1700 0 1705 0 1706 2 1707 0 1708 1 1709 0 1710 1 1714 1 1715 0 1716 1 1717 1 1718 0 1719 1"/>
</g>
<path fill="none" stroke="#008000" stroke-width="0.5" stroke-opacity="0.8" d="M1235.6 797.4 1236.8 797.4 1237.9 797.4 1239.1 774.1 1240.3 797.4 1241.5 774.1 1242.6 797.4 1243.8 774.1 1245.0 797.4 1246.1 797.4 1247.3 797.4 1248.5 797.4 1249.7 797.4 1250.8 797.4 1252.0 797.4"/>
<path fill="none" stroke="#33d3e0" stroke-width="0.5" stroke-opacity="0.8" d="M1235.6 774.1 1236.8 797.4 1237.9 797.4 1239.1 774.1 1240.3 797.4 1241.5 797.4 1242.6 797.4 1243.8 797.4 1245.0 774.1 1246.1 797.4 1247.3 797.4 1248.5 797.4 1249.7 797.4 1250.8 774.1 1252.0 774.1"/>
<path fill="none" stroke="#ffd600" stroke-width="0.5" stroke-opacity="0.8" d="M1235.6 797.4 1236.8 797.4 1237.9 797.4 1239.1 797.4 1240.3 774.1 1241.5 797.4 1242.6 797.4 1243.8 797.4 1245.0 797.4 1246.1 774.1 1247.3 797.4 1248.5 797.4 1249.7 774.1 1250.8 797.4 1252.0 774.1"/>
<path fill="none" stroke="#ff5f5f" stroke-width="0.5" stroke-opacity="0.8" d="M1235.6 774.1 1236.8 774.1 1237.9 797.4 1239.1 797.4 1240.3 774.1 1241.5 797.4 1242.6 774.1 1243.8 797.4 1245.0 797.4 1246.1 797.4 1247.3 774.1 1248.5 774.1 1249.7 774.1 1250.8 797.4 1252.0 797.4"/>
<path fill="none" stroke="#8a2d74" stroke-width="0.5" stroke-opacity="0.8" d="M1235.6 797.4 1236.8 797.4 1237.9 797.4 1239.1 774.1 1240.3 774.1 1241.5 797.4 1242.6 774.1 1243.8 774.1 1245.0 797.4 1246.1 797.4 1247.3 774.1 1248.5 774.1 1249.7 797.4 1250.8 797.4 1252.0 774.1"/>
<path fill="none" stroke="#9083d9" stroke-width="0.5" stroke-opacity="0.8" d="M1235.6 797.4 1236.8 774.1 1237.9 797.4 1239.1 797.4 1240.3 797.4 1241.5 774.1 1242.6 797.4 1243.8 774.1 1245.0 797.4 1246.1 774.1 1247.3 797.4 1248.5 797.4 1249.7 797.4 1250.8 774.1 1252.0 774.1"/>
<path fill="none" stroke="#0892ff" stroke-width="0.5" stroke-opacity="0.8" d="M1235.6 774.1 1236.8 774.1 1237.9 797.4 1239.1 774.1 1240.3 797.4 1241.5 797.4 1242.6 797.4 1243.8 797.4 1245.0 797.4 1246.1 797.4 1247.3 774.1 1248.5 774.1 1249.7 797.4 1250.8 774.1 1252.0 797.4"/>
<!-- chevron -->
<path d="M826.4 392.2L864.3 429.8L827.4 467.8" fill="none" stroke="#d8d8d8" stroke-width="5.2" stroke-linejoin="miter"/>
<!-- annotations -->
<g fill="none" stroke="#000" stroke-width="2.3" stroke-linejoin="miter">
<path d="M1081.9 395.7H1294.6L1343.9 327.7"/>
<circle cx="1076.3" cy="395.7" r="5.6" stroke-width="2.5"/>
<path d="M986 689.3H1287.9L1337.4 621.5"/>
<circle cx="980.4" cy="689.3" r="5.6" stroke-width="2.5"/>
</g>
<g class="ann" filter="url(#fat)">
<text x="1357.1" y="325.4" textLength="286.4" lengthAdjust="spacingAndGlyphs">IVR-VOTES FOR PATICIPANT 07</text>
<text x="1357.1" y="361.8" textLength="158" lengthAdjust="spacingAndGlyphs">ONLY “IVR POOL”</text>
<text x="1357.1" y="613.1" textLength="351.8" lengthAdjust="spacingAndGlyphs">OTHER IVR-VOTES FOR PATICIPANT 07</text>
<text x="1357.1" y="649.5" textLength="194.2" lengthAdjust="spacingAndGlyphs">WITHOUT “IVR POOL”</text>
</g>
<!-- legend -->
<rect x="333.4" y="887.9" width="1010.2" height="124" rx="11" fill="#fafafa"/>
<g class="leg">
<circle cx="381.0" cy="922.4" r="7.4" fill="#9083d9"/>
<text x="396.1" y="930.3" textLength="145.0" lengthAdjust="spacingAndGlyphs">Participant 01</text>
<circle cx="571.0" cy="922.4" r="7.4" fill="#0000ff"/>
<text x="583.5" y="930.3" textLength="150.2" lengthAdjust="spacingAndGlyphs">Participant 02</text>
<circle cx="761.0" cy="922.4" r="7.4" fill="#33d3e0"/>
<text x="773.3" y="930.3" textLength="150.6" lengthAdjust="spacingAndGlyphs">Participant 03</text>
<circle cx="951.0" cy="922.4" r="7.4" fill="#008000"/>
<text x="962.6" y="930.3" textLength="152.0" lengthAdjust="spacingAndGlyphs">Participant 04</text>
<circle cx="1141.0" cy="922.4" r="7.4" fill="#3ccb3c"/>
<text x="1153.4" y="930.3" textLength="150.3" lengthAdjust="spacingAndGlyphs">Participant 05</text>
<circle cx="381.0" cy="973.7" r="7.4" fill="#8a2d74"/>
<text x="392.9" y="981.3" textLength="151.4" lengthAdjust="spacingAndGlyphs">Participant 06</text>
<circle cx="571.0" cy="973.7" r="7.4" fill="#ff6262"/>
<text x="583.6" y="981.3" textLength="150.0" lengthAdjust="spacingAndGlyphs">Participant 07</text>
<circle cx="761.0" cy="973.7" r="7.4" fill="#ffd600"/>
<text x="772.8" y="981.3" textLength="151.6" lengthAdjust="spacingAndGlyphs">Participant 08</text>
<circle cx="951.0" cy="973.7" r="7.4" fill="#0892ff"/>
<text x="963.3" y="981.3" textLength="150.6" lengthAdjust="spacingAndGlyphs">Participant 09</text>
</g>
</svg>
</body></html>
